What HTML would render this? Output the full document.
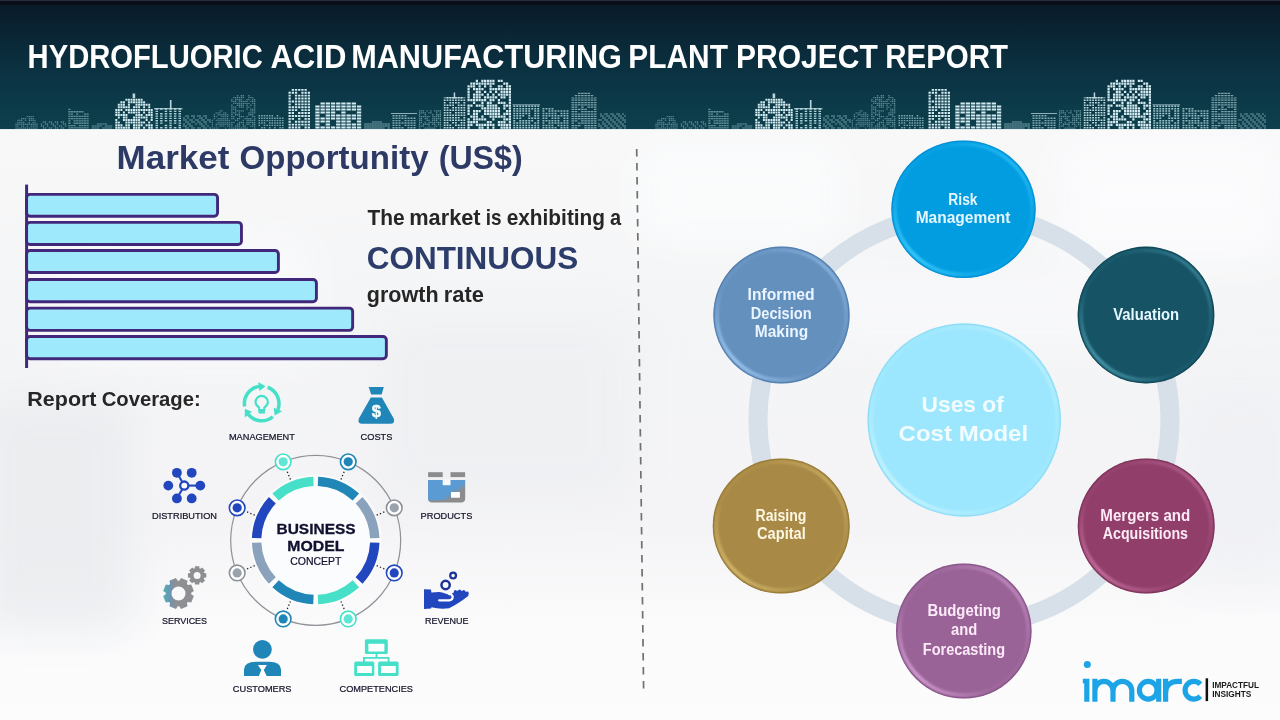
<!DOCTYPE html>
<html lang="en"><head><meta charset="utf-8"><title>Hydrofluoric Acid Manufacturing Plant Project Report</title>
<style>html,body{margin:0;padding:0;background:#f4f6f9;}body{width:1280px;height:720px;overflow:hidden;position:relative;font-family:"Liberation Sans",sans-serif;}</style></head>
<body>
<svg width="1280" height="720" viewBox="0 0 1280 720" style="position:absolute;left:0;top:0">
<defs>
<linearGradient id="hdr" x1="0" y1="0" x2="0" y2="1">
<stop offset="0" stop-color="#0a1624"/><stop offset="0.04" stop-color="#0a1a29"/><stop offset="0.3" stop-color="#0a2736"/><stop offset="0.55" stop-color="#0b3242"/><stop offset="1" stop-color="#0d404d"/>
</linearGradient>
<pattern id="winB" width="2.6" height="2.6" patternUnits="userSpaceOnUse"><rect x="0.3" y="0.3" width="1.9" height="1.9" fill="#d6edf2"/></pattern>
<pattern id="winM" width="2.6" height="2.6" patternUnits="userSpaceOnUse"><rect x="0.3" y="0.3" width="1.9" height="1.7" fill="#9cc3cc"/></pattern>
<pattern id="winD" width="2.4" height="2.4" patternUnits="userSpaceOnUse"><rect x="0.3" y="0.3" width="1.6" height="1.6" fill="#5f8e98"/></pattern>
<pattern id="winH" width="5" height="2.8" patternUnits="userSpaceOnUse"><rect x="0.4" y="0.4" width="4.0" height="1.7" fill="#d6edf2"/></pattern>
</defs>
<defs><linearGradient id="bgv" x1="0" y1="0" x2="0" y2="1"><stop offset="0.18" stop-color="#f8f8f9"/><stop offset="0.45" stop-color="#f4f5f6"/><stop offset="0.72" stop-color="#f4f4f6"/><stop offset="0.88" stop-color="#fbfbfc"/><stop offset="1" stop-color="#fcfcfd"/></linearGradient><filter id="bgblur" x="-20%" y="-20%" width="140%" height="140%"><feGaussianBlur stdDeviation="22"/></filter></defs>
<rect x="0" y="0" width="1280" height="720" fill="url(#bgv)"/>
<g filter="url(#bgblur)"><rect x="-20" y="400" width="150" height="230" fill="#e9ebee" opacity="0.8"/><rect x="60" y="240" width="250" height="120" fill="#fbfcfd" opacity="0.7"/><rect x="380" y="320" width="250" height="180" fill="#eceef1" opacity="0.7"/><rect x="640" y="150" width="200" height="90" fill="#fcfdfe" opacity="0.7"/><rect x="1060" y="140" width="220" height="120" fill="#fdfdfe" opacity="0.8"/><rect x="1180" y="380" width="120" height="200" fill="#eef0f3" opacity="0.7"/><rect x="820" y="280" width="300" height="60" fill="#fbfcfd" opacity="0.6"/></g>
<rect x="0" y="0" width="1280" height="129" fill="url(#hdr)"/>
<rect x="0" y="0" width="1280" height="4.6" fill="#090d16"/><rect x="0" y="0" width="1280" height="1.1" fill="#262d3c"/>
<g id="sky">
<path d="M15.4 127.4h1.3v1.3h-1.3zM17.3 127.4h1.3v1.3h-1.3zM19.2 127.4h1.3v1.3h-1.3zM21.1 127.4h1.3v1.3h-1.3zM23.0 127.4h1.3v1.3h-1.3zM24.9 127.4h1.3v1.3h-1.3zM26.8 127.4h1.3v1.3h-1.3zM28.7 127.4h1.3v1.3h-1.3zM30.6 127.4h1.3v1.3h-1.3zM32.5 127.4h1.3v1.3h-1.3zM34.4 127.4h1.3v1.3h-1.3zM36.3 127.4h1.3v1.3h-1.3zM15.4 125.5h1.3v1.3h-1.3zM17.3 125.5h1.3v1.3h-1.3zM21.1 125.5h1.3v1.3h-1.3zM23.0 125.5h1.3v1.3h-1.3zM26.8 125.5h1.3v1.3h-1.3zM30.6 125.5h1.3v1.3h-1.3zM32.5 125.5h1.3v1.3h-1.3zM34.4 125.5h1.3v1.3h-1.3zM36.3 125.5h1.3v1.3h-1.3zM15.4 123.6h1.3v1.3h-1.3zM17.3 123.6h1.3v1.3h-1.3zM19.2 123.6h1.3v1.3h-1.3zM21.1 123.6h1.3v1.3h-1.3zM23.0 123.6h1.3v1.3h-1.3zM24.9 123.6h1.3v1.3h-1.3zM26.8 123.6h1.3v1.3h-1.3zM28.7 123.6h1.3v1.3h-1.3zM30.6 123.6h1.3v1.3h-1.3zM32.5 123.6h1.3v1.3h-1.3zM34.4 123.6h1.3v1.3h-1.3zM36.3 123.6h1.3v1.3h-1.3zM17.3 121.7h1.3v1.3h-1.3zM19.2 121.7h1.3v1.3h-1.3zM21.1 121.7h1.3v1.3h-1.3zM23.0 121.7h1.3v1.3h-1.3zM28.7 121.7h1.3v1.3h-1.3zM32.5 121.7h1.3v1.3h-1.3zM34.4 121.7h1.3v1.3h-1.3zM17.3 119.8h1.3v1.3h-1.3zM19.2 119.8h1.3v1.3h-1.3zM21.1 119.8h1.3v1.3h-1.3zM24.9 119.8h1.3v1.3h-1.3zM28.7 119.8h1.3v1.3h-1.3zM30.6 119.8h1.3v1.3h-1.3zM32.5 119.8h1.3v1.3h-1.3zM34.4 119.8h1.3v1.3h-1.3zM21.1 117.9h1.3v1.3h-1.3zM23.0 117.9h1.3v1.3h-1.3zM24.9 117.9h1.3v1.3h-1.3zM28.7 117.9h1.3v1.3h-1.3zM30.6 117.9h1.3v1.3h-1.3zM32.5 117.9h1.3v1.3h-1.3zM26.8 116.0h1.3v1.3h-1.3zM28.7 116.0h1.3v1.3h-1.3zM30.6 116.0h1.3v1.3h-1.3zM32.5 116.0h1.3v1.3h-1.3z" fill="#6e9da6" opacity="0.75"/>
<path d="M42.8 127.3h1.4v1.4h-1.4zM44.8 127.3h1.4v1.4h-1.4zM48.8 127.3h1.4v1.4h-1.4zM50.8 127.3h1.4v1.4h-1.4zM54.8 127.3h1.4v1.4h-1.4zM56.8 127.3h1.4v1.4h-1.4zM60.8 127.3h1.4v1.4h-1.4zM62.8 127.3h1.4v1.4h-1.4zM40.8 125.3h1.4v1.4h-1.4zM42.8 125.3h1.4v1.4h-1.4zM46.8 125.3h1.4v1.4h-1.4zM52.8 125.3h1.4v1.4h-1.4zM54.8 125.3h1.4v1.4h-1.4zM58.8 125.3h1.4v1.4h-1.4zM60.8 125.3h1.4v1.4h-1.4zM64.8 125.3h1.4v1.4h-1.4zM40.8 123.3h1.4v1.4h-1.4zM44.8 123.3h1.4v1.4h-1.4zM46.8 123.3h1.4v1.4h-1.4zM50.8 123.3h1.4v1.4h-1.4zM52.8 123.3h1.4v1.4h-1.4zM56.8 123.3h1.4v1.4h-1.4zM62.8 123.3h1.4v1.4h-1.4zM64.8 123.3h1.4v1.4h-1.4zM42.8 121.3h1.4v1.4h-1.4zM44.8 121.3h1.4v1.4h-1.4zM48.8 121.3h1.4v1.4h-1.4zM50.8 121.3h1.4v1.4h-1.4zM54.8 121.3h1.4v1.4h-1.4zM56.8 121.3h1.4v1.4h-1.4zM60.8 121.3h1.4v1.4h-1.4zM62.8 121.3h1.4v1.4h-1.4z" fill="#6e9da6" opacity="0.75"/>
<path d="M68.3 127.2h2.2v1.3h-2.2zM70.9 127.2h2.2v1.3h-2.2zM73.5 127.2h2.2v1.3h-2.2zM76.1 127.2h2.2v1.3h-2.2zM78.7 127.2h2.2v1.3h-2.2zM81.3 127.2h2.2v1.3h-2.2zM83.9 127.2h2.2v1.3h-2.2zM86.5 127.2h2.2v1.3h-2.2zM68.3 124.9h2.2v1.3h-2.2zM70.9 124.9h2.2v1.3h-2.2zM73.5 124.9h2.2v1.3h-2.2zM78.7 124.9h2.2v1.3h-2.2zM81.3 124.9h2.2v1.3h-2.2zM83.9 124.9h2.2v1.3h-2.2zM86.5 124.9h2.2v1.3h-2.2zM68.3 122.6h2.2v1.3h-2.2zM73.5 122.6h2.2v1.3h-2.2zM76.1 122.6h2.2v1.3h-2.2zM78.7 122.6h2.2v1.3h-2.2zM81.3 122.6h2.2v1.3h-2.2zM83.9 122.6h2.2v1.3h-2.2zM86.5 122.6h2.2v1.3h-2.2zM68.3 120.3h2.2v1.3h-2.2zM73.5 120.3h2.2v1.3h-2.2zM76.1 120.3h2.2v1.3h-2.2zM78.7 120.3h2.2v1.3h-2.2zM81.3 120.3h2.2v1.3h-2.2zM83.9 120.3h2.2v1.3h-2.2zM86.5 120.3h2.2v1.3h-2.2zM68.3 118.0h2.2v1.3h-2.2zM70.9 118.0h2.2v1.3h-2.2zM73.5 118.0h2.2v1.3h-2.2zM76.1 118.0h2.2v1.3h-2.2zM78.7 118.0h2.2v1.3h-2.2zM81.3 118.0h2.2v1.3h-2.2zM83.9 118.0h2.2v1.3h-2.2zM86.5 118.0h2.2v1.3h-2.2zM68.3 115.7h2.2v1.3h-2.2zM70.9 115.7h2.2v1.3h-2.2zM73.5 115.7h2.2v1.3h-2.2zM76.1 115.7h2.2v1.3h-2.2zM78.7 115.7h2.2v1.3h-2.2zM81.3 115.7h2.2v1.3h-2.2zM83.9 115.7h2.2v1.3h-2.2zM86.5 115.7h2.2v1.3h-2.2zM68.3 113.4h2.2v1.3h-2.2zM70.9 113.4h2.2v1.3h-2.2zM76.1 113.4h2.2v1.3h-2.2zM83.9 113.4h2.2v1.3h-2.2zM86.5 113.4h2.2v1.3h-2.2zM68.3 111.1h2.2v1.3h-2.2zM70.9 111.1h2.2v1.3h-2.2zM73.5 111.1h2.2v1.3h-2.2zM76.1 111.1h2.2v1.3h-2.2zM78.7 111.1h2.2v1.3h-2.2zM81.3 111.1h2.2v1.3h-2.2zM68.3 108.8h2.2v1.3h-2.2z" fill="#6e9da6" opacity="0.85"/>
<path d="M91.7 127.4h2.4v1.2h-2.4zM94.3 127.4h2.4v1.2h-2.4zM96.9 127.4h2.4v1.2h-2.4zM102.1 127.4h2.4v1.2h-2.4zM104.7 127.4h2.4v1.2h-2.4zM107.3 127.4h2.4v1.2h-2.4zM109.9 127.4h2.4v1.2h-2.4zM91.7 125.4h2.4v1.2h-2.4zM94.3 125.4h2.4v1.2h-2.4zM96.9 125.4h2.4v1.2h-2.4zM99.5 125.4h2.4v1.2h-2.4zM104.7 125.4h2.4v1.2h-2.4zM107.3 125.4h2.4v1.2h-2.4zM109.9 125.4h2.4v1.2h-2.4zM96.9 123.4h2.4v1.2h-2.4zM99.5 123.4h2.4v1.2h-2.4zM102.1 123.4h2.4v1.2h-2.4zM104.7 123.4h2.4v1.2h-2.4z" fill="#6e9da6" opacity="0.9"/>
<path d="M115.3 126.7h2v2h-2zM117.8 126.7h2v2h-2zM120.4 126.7h2v2h-2zM122.9 126.7h2v2h-2zM125.4 126.7h2v2h-2zM127.9 126.7h2v2h-2zM133.0 126.7h2v2h-2zM135.5 126.7h2v2h-2zM138.1 126.7h2v2h-2zM143.1 126.7h2v2h-2zM148.2 126.7h2v2h-2zM150.7 126.7h2v2h-2zM115.3 124.2h2v2h-2zM117.8 124.2h2v2h-2zM120.4 124.2h2v2h-2zM125.4 124.2h2v2h-2zM127.9 124.2h2v2h-2zM133.0 124.2h2v2h-2zM135.5 124.2h2v2h-2zM138.1 124.2h2v2h-2zM140.6 124.2h2v2h-2zM145.6 124.2h2v2h-2zM148.2 124.2h2v2h-2zM150.7 124.2h2v2h-2zM115.3 121.6h2v2h-2zM117.8 121.6h2v2h-2zM125.4 121.6h2v2h-2zM127.9 121.6h2v2h-2zM130.5 121.6h2v2h-2zM133.0 121.6h2v2h-2zM135.5 121.6h2v2h-2zM138.1 121.6h2v2h-2zM140.6 121.6h2v2h-2zM143.1 121.6h2v2h-2zM148.2 121.6h2v2h-2zM115.3 119.1h2v2h-2zM122.9 119.1h2v2h-2zM125.4 119.1h2v2h-2zM127.9 119.1h2v2h-2zM130.5 119.1h2v2h-2zM133.0 119.1h2v2h-2zM135.5 119.1h2v2h-2zM138.1 119.1h2v2h-2zM145.6 119.1h2v2h-2zM150.7 119.1h2v2h-2zM117.8 116.5h2v2h-2zM122.9 116.5h2v2h-2zM125.4 116.5h2v2h-2zM133.0 116.5h2v2h-2zM135.5 116.5h2v2h-2zM138.1 116.5h2v2h-2zM140.6 116.5h2v2h-2zM143.1 116.5h2v2h-2zM145.6 116.5h2v2h-2zM150.7 116.5h2v2h-2zM115.3 114.0h2v2h-2zM117.8 114.0h2v2h-2zM120.4 114.0h2v2h-2zM122.9 114.0h2v2h-2zM125.4 114.0h2v2h-2zM135.5 114.0h2v2h-2zM138.1 114.0h2v2h-2zM140.6 114.0h2v2h-2zM145.6 114.0h2v2h-2zM148.2 114.0h2v2h-2zM150.7 114.0h2v2h-2zM115.3 111.4h2v2h-2zM117.8 111.4h2v2h-2zM122.9 111.4h2v2h-2zM127.9 111.4h2v2h-2zM130.5 111.4h2v2h-2zM133.0 111.4h2v2h-2zM135.5 111.4h2v2h-2zM138.1 111.4h2v2h-2zM143.1 111.4h2v2h-2zM148.2 111.4h2v2h-2zM150.7 111.4h2v2h-2zM115.3 108.9h2v2h-2zM117.8 108.9h2v2h-2zM120.4 108.9h2v2h-2zM125.4 108.9h2v2h-2zM127.9 108.9h2v2h-2zM130.5 108.9h2v2h-2zM133.0 108.9h2v2h-2zM135.5 108.9h2v2h-2zM138.1 108.9h2v2h-2zM140.6 108.9h2v2h-2zM143.1 108.9h2v2h-2zM145.6 108.9h2v2h-2zM148.2 108.9h2v2h-2zM150.7 108.9h2v2h-2zM117.8 106.3h2v2h-2zM120.4 106.3h2v2h-2zM122.9 106.3h2v2h-2zM125.4 106.3h2v2h-2zM127.9 106.3h2v2h-2zM133.0 106.3h2v2h-2zM135.5 106.3h2v2h-2zM138.1 106.3h2v2h-2zM143.1 106.3h2v2h-2zM148.2 106.3h2v2h-2zM117.8 103.8h2v2h-2zM120.4 103.8h2v2h-2zM122.9 103.8h2v2h-2zM127.9 103.8h2v2h-2zM135.5 103.8h2v2h-2zM138.1 103.8h2v2h-2zM140.6 103.8h2v2h-2zM143.1 103.8h2v2h-2zM145.6 103.8h2v2h-2zM148.2 103.8h2v2h-2zM120.4 101.2h2v2h-2zM122.9 101.2h2v2h-2zM127.9 101.2h2v2h-2zM130.5 101.2h2v2h-2zM133.0 101.2h2v2h-2zM135.5 101.2h2v2h-2zM138.1 101.2h2v2h-2zM140.6 101.2h2v2h-2zM143.1 101.2h2v2h-2zM125.4 98.7h2v2h-2zM127.9 98.7h2v2h-2zM130.5 98.7h2v2h-2zM133.0 98.7h2v2h-2zM135.5 98.7h2v2h-2zM138.1 98.7h2v2h-2zM140.6 98.7h2v2h-2z" fill="#d3ebf0" opacity="1"/>
<path d="M155.5 127.1h2.5v1.4h-2.5zM160.1 127.1h2.5v1.4h-2.5zM164.7 127.1h2.5v1.4h-2.5zM169.3 127.1h2.5v1.4h-2.5zM173.9 127.1h2.5v1.4h-2.5zM178.5 127.1h2.5v1.4h-2.5zM155.5 124.8h2.5v1.4h-2.5zM164.7 124.8h2.5v1.4h-2.5zM169.3 124.8h2.5v1.4h-2.5zM178.5 124.8h2.5v1.4h-2.5zM155.5 122.4h2.5v1.4h-2.5zM160.1 122.4h2.5v1.4h-2.5zM169.3 122.4h2.5v1.4h-2.5zM173.9 122.4h2.5v1.4h-2.5zM178.5 122.4h2.5v1.4h-2.5zM155.5 120.1h2.5v1.4h-2.5zM160.1 120.1h2.5v1.4h-2.5zM164.7 120.1h2.5v1.4h-2.5zM169.3 120.1h2.5v1.4h-2.5zM173.9 120.1h2.5v1.4h-2.5zM178.5 120.1h2.5v1.4h-2.5zM155.5 117.7h2.5v1.4h-2.5zM160.1 117.7h2.5v1.4h-2.5zM164.7 117.7h2.5v1.4h-2.5zM169.3 117.7h2.5v1.4h-2.5zM173.9 117.7h2.5v1.4h-2.5zM178.5 117.7h2.5v1.4h-2.5zM155.5 115.4h2.5v1.4h-2.5zM160.1 115.4h2.5v1.4h-2.5zM164.7 115.4h2.5v1.4h-2.5zM169.3 115.4h2.5v1.4h-2.5zM173.9 115.4h2.5v1.4h-2.5zM178.5 115.4h2.5v1.4h-2.5zM155.5 113.0h2.5v1.4h-2.5zM160.1 113.0h2.5v1.4h-2.5zM164.7 113.0h2.5v1.4h-2.5zM169.3 113.0h2.5v1.4h-2.5zM173.9 113.0h2.5v1.4h-2.5zM178.5 113.0h2.5v1.4h-2.5zM155.5 110.7h2.5v1.4h-2.5zM164.7 110.7h2.5v1.4h-2.5zM169.3 110.7h2.5v1.4h-2.5zM173.9 110.7h2.5v1.4h-2.5zM178.5 110.7h2.5v1.4h-2.5zM155.5 108.3h2.5v1.4h-2.5zM160.1 108.3h2.5v1.4h-2.5zM164.7 108.3h2.5v1.4h-2.5zM169.3 108.3h2.5v1.4h-2.5zM173.9 108.3h2.5v1.4h-2.5zM178.5 108.3h2.5v1.4h-2.5z" fill="#a9cfd6" opacity="1"/>
<path d="M185.3 127.3h1.4v1.4h-1.4zM187.3 127.3h1.4v1.4h-1.4zM191.3 127.3h1.4v1.4h-1.4zM193.3 127.3h1.4v1.4h-1.4zM197.3 127.3h1.4v1.4h-1.4zM199.3 127.3h1.4v1.4h-1.4zM203.3 127.3h1.4v1.4h-1.4zM205.3 127.3h1.4v1.4h-1.4zM209.3 127.3h1.4v1.4h-1.4zM183.3 125.3h1.4v1.4h-1.4zM185.3 125.3h1.4v1.4h-1.4zM189.3 125.3h1.4v1.4h-1.4zM191.3 125.3h1.4v1.4h-1.4zM201.3 125.3h1.4v1.4h-1.4zM203.3 125.3h1.4v1.4h-1.4zM207.3 125.3h1.4v1.4h-1.4zM183.3 123.3h1.4v1.4h-1.4zM187.3 123.3h1.4v1.4h-1.4zM189.3 123.3h1.4v1.4h-1.4zM195.3 123.3h1.4v1.4h-1.4zM199.3 123.3h1.4v1.4h-1.4zM201.3 123.3h1.4v1.4h-1.4zM205.3 123.3h1.4v1.4h-1.4zM185.3 121.3h1.4v1.4h-1.4zM187.3 121.3h1.4v1.4h-1.4zM191.3 121.3h1.4v1.4h-1.4zM193.3 121.3h1.4v1.4h-1.4zM197.3 121.3h1.4v1.4h-1.4zM199.3 121.3h1.4v1.4h-1.4zM203.3 121.3h1.4v1.4h-1.4zM205.3 121.3h1.4v1.4h-1.4zM209.3 121.3h1.4v1.4h-1.4zM183.3 119.3h1.4v1.4h-1.4zM185.3 119.3h1.4v1.4h-1.4zM189.3 119.3h1.4v1.4h-1.4zM191.3 119.3h1.4v1.4h-1.4zM195.3 119.3h1.4v1.4h-1.4zM197.3 119.3h1.4v1.4h-1.4zM201.3 119.3h1.4v1.4h-1.4zM203.3 119.3h1.4v1.4h-1.4zM207.3 119.3h1.4v1.4h-1.4zM209.3 119.3h1.4v1.4h-1.4zM183.3 117.3h1.4v1.4h-1.4zM187.3 117.3h1.4v1.4h-1.4zM193.3 117.3h1.4v1.4h-1.4zM199.3 117.3h1.4v1.4h-1.4zM201.3 117.3h1.4v1.4h-1.4zM205.3 117.3h1.4v1.4h-1.4zM185.3 115.3h1.4v1.4h-1.4zM187.3 115.3h1.4v1.4h-1.4zM191.3 115.3h1.4v1.4h-1.4zM193.3 115.3h1.4v1.4h-1.4zM197.3 115.3h1.4v1.4h-1.4zM199.3 115.3h1.4v1.4h-1.4zM203.3 115.3h1.4v1.4h-1.4zM205.3 115.3h1.4v1.4h-1.4z" fill="#6e9da6" opacity="0.9"/>
<path d="M211.8 127.4h1.3v1.3h-1.3zM213.7 127.4h1.3v1.3h-1.3zM215.6 127.4h1.3v1.3h-1.3zM217.5 127.4h1.3v1.3h-1.3zM225.1 127.4h1.3v1.3h-1.3zM228.9 127.4h1.3v1.3h-1.3zM211.8 125.5h1.3v1.3h-1.3zM215.6 125.5h1.3v1.3h-1.3zM219.4 125.5h1.3v1.3h-1.3zM221.3 125.5h1.3v1.3h-1.3zM223.2 125.5h1.3v1.3h-1.3zM227.0 125.5h1.3v1.3h-1.3zM228.9 125.5h1.3v1.3h-1.3zM211.8 123.6h1.3v1.3h-1.3zM215.6 123.6h1.3v1.3h-1.3zM217.5 123.6h1.3v1.3h-1.3zM219.4 123.6h1.3v1.3h-1.3zM221.3 123.6h1.3v1.3h-1.3zM223.2 123.6h1.3v1.3h-1.3zM225.1 123.6h1.3v1.3h-1.3zM227.0 123.6h1.3v1.3h-1.3zM228.9 123.6h1.3v1.3h-1.3zM211.8 121.7h1.3v1.3h-1.3zM217.5 121.7h1.3v1.3h-1.3zM219.4 121.7h1.3v1.3h-1.3zM221.3 121.7h1.3v1.3h-1.3zM223.2 121.7h1.3v1.3h-1.3zM225.1 121.7h1.3v1.3h-1.3zM227.0 121.7h1.3v1.3h-1.3zM228.9 121.7h1.3v1.3h-1.3zM211.8 119.8h1.3v1.3h-1.3zM215.6 119.8h1.3v1.3h-1.3zM217.5 119.8h1.3v1.3h-1.3zM219.4 119.8h1.3v1.3h-1.3zM221.3 119.8h1.3v1.3h-1.3zM223.2 119.8h1.3v1.3h-1.3zM225.1 119.8h1.3v1.3h-1.3zM227.0 119.8h1.3v1.3h-1.3zM228.9 119.8h1.3v1.3h-1.3zM213.7 117.9h1.3v1.3h-1.3zM217.5 117.9h1.3v1.3h-1.3zM219.4 117.9h1.3v1.3h-1.3zM221.3 117.9h1.3v1.3h-1.3zM223.2 117.9h1.3v1.3h-1.3zM225.1 117.9h1.3v1.3h-1.3zM227.0 117.9h1.3v1.3h-1.3zM213.7 116.0h1.3v1.3h-1.3zM215.6 116.0h1.3v1.3h-1.3zM221.3 116.0h1.3v1.3h-1.3zM223.2 116.0h1.3v1.3h-1.3zM225.1 116.0h1.3v1.3h-1.3zM227.0 116.0h1.3v1.3h-1.3zM213.7 114.1h1.3v1.3h-1.3zM217.5 114.1h1.3v1.3h-1.3zM219.4 114.1h1.3v1.3h-1.3zM221.3 114.1h1.3v1.3h-1.3zM223.2 114.1h1.3v1.3h-1.3zM225.1 114.1h1.3v1.3h-1.3zM227.0 114.1h1.3v1.3h-1.3zM215.6 112.2h1.3v1.3h-1.3zM217.5 112.2h1.3v1.3h-1.3zM219.4 112.2h1.3v1.3h-1.3zM223.2 112.2h1.3v1.3h-1.3zM225.1 112.2h1.3v1.3h-1.3zM219.4 110.3h1.3v1.3h-1.3zM221.3 110.3h1.3v1.3h-1.3z" fill="#6e9da6" opacity="0.7"/>
<path d="M231.2 127.4h1.3v1.3h-1.3zM233.1 127.4h1.3v1.3h-1.3zM235.0 127.4h1.3v1.3h-1.3zM236.9 127.4h1.3v1.3h-1.3zM238.8 127.4h1.3v1.3h-1.3zM240.7 127.4h1.3v1.3h-1.3zM242.6 127.4h1.3v1.3h-1.3zM244.5 127.4h1.3v1.3h-1.3zM246.4 127.4h1.3v1.3h-1.3zM254.0 127.4h1.3v1.3h-1.3zM231.2 125.5h1.3v1.3h-1.3zM235.0 125.5h1.3v1.3h-1.3zM236.9 125.5h1.3v1.3h-1.3zM238.8 125.5h1.3v1.3h-1.3zM242.6 125.5h1.3v1.3h-1.3zM244.5 125.5h1.3v1.3h-1.3zM250.2 125.5h1.3v1.3h-1.3zM252.1 125.5h1.3v1.3h-1.3zM254.0 125.5h1.3v1.3h-1.3zM231.2 123.6h1.3v1.3h-1.3zM236.9 123.6h1.3v1.3h-1.3zM238.8 123.6h1.3v1.3h-1.3zM242.6 123.6h1.3v1.3h-1.3zM246.4 123.6h1.3v1.3h-1.3zM248.3 123.6h1.3v1.3h-1.3zM252.1 123.6h1.3v1.3h-1.3zM254.0 123.6h1.3v1.3h-1.3zM231.2 121.7h1.3v1.3h-1.3zM233.1 121.7h1.3v1.3h-1.3zM238.8 121.7h1.3v1.3h-1.3zM240.7 121.7h1.3v1.3h-1.3zM242.6 121.7h1.3v1.3h-1.3zM246.4 121.7h1.3v1.3h-1.3zM248.3 121.7h1.3v1.3h-1.3zM250.2 121.7h1.3v1.3h-1.3zM252.1 121.7h1.3v1.3h-1.3zM254.0 121.7h1.3v1.3h-1.3zM235.0 119.8h1.3v1.3h-1.3zM236.9 119.8h1.3v1.3h-1.3zM242.6 119.8h1.3v1.3h-1.3zM246.4 119.8h1.3v1.3h-1.3zM248.3 119.8h1.3v1.3h-1.3zM250.2 119.8h1.3v1.3h-1.3zM252.1 119.8h1.3v1.3h-1.3zM254.0 119.8h1.3v1.3h-1.3zM231.2 117.9h1.3v1.3h-1.3zM233.1 117.9h1.3v1.3h-1.3zM236.9 117.9h1.3v1.3h-1.3zM238.8 117.9h1.3v1.3h-1.3zM244.5 117.9h1.3v1.3h-1.3zM246.4 117.9h1.3v1.3h-1.3zM248.3 117.9h1.3v1.3h-1.3zM250.2 117.9h1.3v1.3h-1.3zM254.0 117.9h1.3v1.3h-1.3zM231.2 116.0h1.3v1.3h-1.3zM233.1 116.0h1.3v1.3h-1.3zM238.8 116.0h1.3v1.3h-1.3zM240.7 116.0h1.3v1.3h-1.3zM242.6 116.0h1.3v1.3h-1.3zM246.4 116.0h1.3v1.3h-1.3zM252.1 116.0h1.3v1.3h-1.3zM254.0 116.0h1.3v1.3h-1.3zM231.2 114.1h1.3v1.3h-1.3zM235.0 114.1h1.3v1.3h-1.3zM236.9 114.1h1.3v1.3h-1.3zM238.8 114.1h1.3v1.3h-1.3zM248.3 114.1h1.3v1.3h-1.3zM250.2 114.1h1.3v1.3h-1.3zM252.1 114.1h1.3v1.3h-1.3zM231.2 112.2h1.3v1.3h-1.3zM233.1 112.2h1.3v1.3h-1.3zM235.0 112.2h1.3v1.3h-1.3zM238.8 112.2h1.3v1.3h-1.3zM248.3 112.2h1.3v1.3h-1.3zM250.2 112.2h1.3v1.3h-1.3zM252.1 112.2h1.3v1.3h-1.3zM254.0 112.2h1.3v1.3h-1.3zM231.2 110.3h1.3v1.3h-1.3zM235.0 110.3h1.3v1.3h-1.3zM236.9 110.3h1.3v1.3h-1.3zM238.8 110.3h1.3v1.3h-1.3zM240.7 110.3h1.3v1.3h-1.3zM242.6 110.3h1.3v1.3h-1.3zM250.2 110.3h1.3v1.3h-1.3zM252.1 110.3h1.3v1.3h-1.3zM254.0 110.3h1.3v1.3h-1.3zM231.2 108.4h1.3v1.3h-1.3zM233.1 108.4h1.3v1.3h-1.3zM235.0 108.4h1.3v1.3h-1.3zM246.4 108.4h1.3v1.3h-1.3zM250.2 108.4h1.3v1.3h-1.3zM252.1 108.4h1.3v1.3h-1.3zM254.0 108.4h1.3v1.3h-1.3zM231.2 106.5h1.3v1.3h-1.3zM233.1 106.5h1.3v1.3h-1.3zM235.0 106.5h1.3v1.3h-1.3zM238.8 106.5h1.3v1.3h-1.3zM240.7 106.5h1.3v1.3h-1.3zM242.6 106.5h1.3v1.3h-1.3zM246.4 106.5h1.3v1.3h-1.3zM248.3 106.5h1.3v1.3h-1.3zM254.0 106.5h1.3v1.3h-1.3zM231.2 104.6h1.3v1.3h-1.3zM236.9 104.6h1.3v1.3h-1.3zM238.8 104.6h1.3v1.3h-1.3zM240.7 104.6h1.3v1.3h-1.3zM242.6 104.6h1.3v1.3h-1.3zM246.4 104.6h1.3v1.3h-1.3zM250.2 104.6h1.3v1.3h-1.3zM254.0 104.6h1.3v1.3h-1.3zM233.1 102.7h1.3v1.3h-1.3zM235.0 102.7h1.3v1.3h-1.3zM236.9 102.7h1.3v1.3h-1.3zM238.8 102.7h1.3v1.3h-1.3zM240.7 102.7h1.3v1.3h-1.3zM242.6 102.7h1.3v1.3h-1.3zM244.5 102.7h1.3v1.3h-1.3zM246.4 102.7h1.3v1.3h-1.3zM248.3 102.7h1.3v1.3h-1.3zM252.1 102.7h1.3v1.3h-1.3zM254.0 102.7h1.3v1.3h-1.3zM231.2 100.8h1.3v1.3h-1.3zM233.1 100.8h1.3v1.3h-1.3zM235.0 100.8h1.3v1.3h-1.3zM238.8 100.8h1.3v1.3h-1.3zM240.7 100.8h1.3v1.3h-1.3zM242.6 100.8h1.3v1.3h-1.3zM244.5 100.8h1.3v1.3h-1.3zM246.4 100.8h1.3v1.3h-1.3zM250.2 100.8h1.3v1.3h-1.3zM252.1 100.8h1.3v1.3h-1.3zM254.0 100.8h1.3v1.3h-1.3zM231.2 98.9h1.3v1.3h-1.3zM235.0 98.9h1.3v1.3h-1.3zM236.9 98.9h1.3v1.3h-1.3zM238.8 98.9h1.3v1.3h-1.3zM240.7 98.9h1.3v1.3h-1.3zM246.4 98.9h1.3v1.3h-1.3zM248.3 98.9h1.3v1.3h-1.3zM252.1 98.9h1.3v1.3h-1.3zM254.0 98.9h1.3v1.3h-1.3zM233.1 97.0h1.3v1.3h-1.3zM235.0 97.0h1.3v1.3h-1.3zM236.9 97.0h1.3v1.3h-1.3zM238.8 97.0h1.3v1.3h-1.3zM240.7 97.0h1.3v1.3h-1.3zM242.6 97.0h1.3v1.3h-1.3zM248.3 97.0h1.3v1.3h-1.3zM250.2 97.0h1.3v1.3h-1.3zM252.1 97.0h1.3v1.3h-1.3zM236.9 95.1h1.3v1.3h-1.3zM240.7 95.1h1.3v1.3h-1.3zM242.6 95.1h1.3v1.3h-1.3zM248.3 95.1h1.3v1.3h-1.3z" fill="#6e9da6" opacity="0.8"/>
<path d="M261.1 127.1h1.6v1.4h-1.6zM263.7 127.1h1.6v1.4h-1.6zM268.9 127.1h1.6v1.4h-1.6zM274.1 127.1h1.6v1.4h-1.6zM279.3 127.1h1.6v1.4h-1.6zM281.9 127.1h1.6v1.4h-1.6zM258.5 124.7h1.6v1.4h-1.6zM263.7 124.7h1.6v1.4h-1.6zM266.3 124.7h1.6v1.4h-1.6zM268.9 124.7h1.6v1.4h-1.6zM271.5 124.7h1.6v1.4h-1.6zM274.1 124.7h1.6v1.4h-1.6zM276.7 124.7h1.6v1.4h-1.6zM279.3 124.7h1.6v1.4h-1.6zM281.9 124.7h1.6v1.4h-1.6zM258.5 122.3h1.6v1.4h-1.6zM261.1 122.3h1.6v1.4h-1.6zM263.7 122.3h1.6v1.4h-1.6zM268.9 122.3h1.6v1.4h-1.6zM271.5 122.3h1.6v1.4h-1.6zM274.1 122.3h1.6v1.4h-1.6zM276.7 122.3h1.6v1.4h-1.6zM279.3 122.3h1.6v1.4h-1.6zM281.9 122.3h1.6v1.4h-1.6zM258.5 119.9h1.6v1.4h-1.6zM261.1 119.9h1.6v1.4h-1.6zM263.7 119.9h1.6v1.4h-1.6zM266.3 119.9h1.6v1.4h-1.6zM268.9 119.9h1.6v1.4h-1.6zM271.5 119.9h1.6v1.4h-1.6zM274.1 119.9h1.6v1.4h-1.6zM276.7 119.9h1.6v1.4h-1.6zM279.3 119.9h1.6v1.4h-1.6zM281.9 119.9h1.6v1.4h-1.6zM258.5 117.5h1.6v1.4h-1.6zM261.1 117.5h1.6v1.4h-1.6zM263.7 117.5h1.6v1.4h-1.6zM266.3 117.5h1.6v1.4h-1.6zM268.9 117.5h1.6v1.4h-1.6zM271.5 117.5h1.6v1.4h-1.6zM274.1 117.5h1.6v1.4h-1.6zM276.7 117.5h1.6v1.4h-1.6zM279.3 117.5h1.6v1.4h-1.6zM281.9 117.5h1.6v1.4h-1.6zM258.5 115.1h1.6v1.4h-1.6zM261.1 115.1h1.6v1.4h-1.6zM263.7 115.1h1.6v1.4h-1.6zM266.3 115.1h1.6v1.4h-1.6zM268.9 115.1h1.6v1.4h-1.6zM271.5 115.1h1.6v1.4h-1.6zM276.7 115.1h1.6v1.4h-1.6z" fill="#a9cfd6" opacity="0.7"/>
<path d="M288.5 126.6h2.3v1.9h-2.3zM291.7 126.6h2.3v1.9h-2.3zM294.9 126.6h2.3v1.9h-2.3zM298.1 126.6h2.3v1.9h-2.3zM304.5 126.6h2.3v1.9h-2.3zM307.7 126.6h2.3v1.9h-2.3zM288.5 123.7h2.3v1.9h-2.3zM291.7 123.7h2.3v1.9h-2.3zM294.9 123.7h2.3v1.9h-2.3zM298.1 123.7h2.3v1.9h-2.3zM301.3 123.7h2.3v1.9h-2.3zM304.5 123.7h2.3v1.9h-2.3zM307.7 123.7h2.3v1.9h-2.3zM288.5 120.8h2.3v1.9h-2.3zM294.9 120.8h2.3v1.9h-2.3zM298.1 120.8h2.3v1.9h-2.3zM301.3 120.8h2.3v1.9h-2.3zM304.5 120.8h2.3v1.9h-2.3zM307.7 120.8h2.3v1.9h-2.3zM288.5 117.9h2.3v1.9h-2.3zM291.7 117.9h2.3v1.9h-2.3zM298.1 117.9h2.3v1.9h-2.3zM304.5 117.9h2.3v1.9h-2.3zM307.7 117.9h2.3v1.9h-2.3zM288.5 115.0h2.3v1.9h-2.3zM291.7 115.0h2.3v1.9h-2.3zM294.9 115.0h2.3v1.9h-2.3zM298.1 115.0h2.3v1.9h-2.3zM301.3 115.0h2.3v1.9h-2.3zM304.5 115.0h2.3v1.9h-2.3zM307.7 115.0h2.3v1.9h-2.3zM288.5 112.1h2.3v1.9h-2.3zM291.7 112.1h2.3v1.9h-2.3zM298.1 112.1h2.3v1.9h-2.3zM301.3 112.1h2.3v1.9h-2.3zM304.5 112.1h2.3v1.9h-2.3zM307.7 112.1h2.3v1.9h-2.3zM288.5 109.2h2.3v1.9h-2.3zM291.7 109.2h2.3v1.9h-2.3zM294.9 109.2h2.3v1.9h-2.3zM301.3 109.2h2.3v1.9h-2.3zM304.5 109.2h2.3v1.9h-2.3zM307.7 109.2h2.3v1.9h-2.3zM288.5 106.3h2.3v1.9h-2.3zM291.7 106.3h2.3v1.9h-2.3zM294.9 106.3h2.3v1.9h-2.3zM298.1 106.3h2.3v1.9h-2.3zM301.3 106.3h2.3v1.9h-2.3zM304.5 106.3h2.3v1.9h-2.3zM307.7 106.3h2.3v1.9h-2.3zM288.5 103.4h2.3v1.9h-2.3zM294.9 103.4h2.3v1.9h-2.3zM298.1 103.4h2.3v1.9h-2.3zM301.3 103.4h2.3v1.9h-2.3zM304.5 103.4h2.3v1.9h-2.3zM307.7 103.4h2.3v1.9h-2.3zM288.5 100.5h2.3v1.9h-2.3zM291.7 100.5h2.3v1.9h-2.3zM294.9 100.5h2.3v1.9h-2.3zM298.1 100.5h2.3v1.9h-2.3zM301.3 100.5h2.3v1.9h-2.3zM304.5 100.5h2.3v1.9h-2.3zM307.7 100.5h2.3v1.9h-2.3zM288.5 97.6h2.3v1.9h-2.3zM294.9 97.6h2.3v1.9h-2.3zM298.1 97.6h2.3v1.9h-2.3zM301.3 97.6h2.3v1.9h-2.3zM304.5 97.6h2.3v1.9h-2.3zM307.7 97.6h2.3v1.9h-2.3zM288.5 94.7h2.3v1.9h-2.3zM294.9 94.7h2.3v1.9h-2.3zM298.1 94.7h2.3v1.9h-2.3zM301.3 94.7h2.3v1.9h-2.3zM304.5 94.7h2.3v1.9h-2.3zM307.7 94.7h2.3v1.9h-2.3zM288.5 91.8h2.3v1.9h-2.3zM291.7 91.8h2.3v1.9h-2.3zM294.9 91.8h2.3v1.9h-2.3zM301.3 91.8h2.3v1.9h-2.3zM304.5 91.8h2.3v1.9h-2.3zM307.7 91.8h2.3v1.9h-2.3zM291.7 88.9h2.3v1.9h-2.3zM294.9 88.9h2.3v1.9h-2.3zM298.1 88.9h2.3v1.9h-2.3zM301.3 88.9h2.3v1.9h-2.3zM304.5 88.9h2.3v1.9h-2.3z" fill="#d3ebf0" opacity="1"/>
<path d="M315.3 126.6h4.3v1.8h-4.3zM320.5 126.6h4.3v1.8h-4.3zM325.7 126.6h4.3v1.8h-4.3zM330.9 126.6h4.3v1.8h-4.3zM336.1 126.6h4.3v1.8h-4.3zM341.3 126.6h4.3v1.8h-4.3zM346.5 126.6h4.3v1.8h-4.3zM351.7 126.6h4.3v1.8h-4.3zM356.9 126.6h4.3v1.8h-4.3zM315.3 123.6h4.3v1.8h-4.3zM325.7 123.6h4.3v1.8h-4.3zM336.1 123.6h4.3v1.8h-4.3zM341.3 123.6h4.3v1.8h-4.3zM346.5 123.6h4.3v1.8h-4.3zM351.7 123.6h4.3v1.8h-4.3zM356.9 123.6h4.3v1.8h-4.3zM315.3 120.6h4.3v1.8h-4.3zM320.5 120.6h4.3v1.8h-4.3zM325.7 120.6h4.3v1.8h-4.3zM336.1 120.6h4.3v1.8h-4.3zM341.3 120.6h4.3v1.8h-4.3zM346.5 120.6h4.3v1.8h-4.3zM356.9 120.6h4.3v1.8h-4.3zM315.3 117.6h4.3v1.8h-4.3zM320.5 117.6h4.3v1.8h-4.3zM325.7 117.6h4.3v1.8h-4.3zM330.9 117.6h4.3v1.8h-4.3zM336.1 117.6h4.3v1.8h-4.3zM341.3 117.6h4.3v1.8h-4.3zM346.5 117.6h4.3v1.8h-4.3zM351.7 117.6h4.3v1.8h-4.3zM356.9 117.6h4.3v1.8h-4.3zM315.3 114.6h4.3v1.8h-4.3zM325.7 114.6h4.3v1.8h-4.3zM330.9 114.6h4.3v1.8h-4.3zM336.1 114.6h4.3v1.8h-4.3zM341.3 114.6h4.3v1.8h-4.3zM346.5 114.6h4.3v1.8h-4.3zM351.7 114.6h4.3v1.8h-4.3zM356.9 114.6h4.3v1.8h-4.3zM315.3 111.6h4.3v1.8h-4.3zM320.5 111.6h4.3v1.8h-4.3zM325.7 111.6h4.3v1.8h-4.3zM330.9 111.6h4.3v1.8h-4.3zM341.3 111.6h4.3v1.8h-4.3zM356.9 111.6h4.3v1.8h-4.3zM315.3 108.6h4.3v1.8h-4.3zM320.5 108.6h4.3v1.8h-4.3zM325.7 108.6h4.3v1.8h-4.3zM330.9 108.6h4.3v1.8h-4.3zM336.1 108.6h4.3v1.8h-4.3zM341.3 108.6h4.3v1.8h-4.3zM346.5 108.6h4.3v1.8h-4.3zM351.7 108.6h4.3v1.8h-4.3zM356.9 108.6h4.3v1.8h-4.3zM315.3 105.6h4.3v1.8h-4.3zM320.5 105.6h4.3v1.8h-4.3zM325.7 105.6h4.3v1.8h-4.3zM330.9 105.6h4.3v1.8h-4.3zM336.1 105.6h4.3v1.8h-4.3zM341.3 105.6h4.3v1.8h-4.3zM346.5 105.6h4.3v1.8h-4.3zM351.7 105.6h4.3v1.8h-4.3zM356.9 105.6h4.3v1.8h-4.3zM320.5 102.6h4.3v1.8h-4.3zM325.7 102.6h4.3v1.8h-4.3zM330.9 102.6h4.3v1.8h-4.3zM336.1 102.6h4.3v1.8h-4.3zM341.3 102.6h4.3v1.8h-4.3zM346.5 102.6h4.3v1.8h-4.3zM351.7 102.6h4.3v1.8h-4.3z" fill="#d3ebf0" opacity="1"/>
<path d="M364.1 127.4h2.4v1.2h-2.4zM366.7 127.4h2.4v1.2h-2.4zM369.3 127.4h2.4v1.2h-2.4zM371.9 127.4h2.4v1.2h-2.4zM374.5 127.4h2.4v1.2h-2.4zM377.1 127.4h2.4v1.2h-2.4zM379.7 127.4h2.4v1.2h-2.4zM382.3 127.4h2.4v1.2h-2.4zM387.5 127.4h2.4v1.2h-2.4zM364.1 125.4h2.4v1.2h-2.4zM366.7 125.4h2.4v1.2h-2.4zM369.3 125.4h2.4v1.2h-2.4zM371.9 125.4h2.4v1.2h-2.4zM374.5 125.4h2.4v1.2h-2.4zM377.1 125.4h2.4v1.2h-2.4zM379.7 125.4h2.4v1.2h-2.4zM382.3 125.4h2.4v1.2h-2.4zM384.9 125.4h2.4v1.2h-2.4zM387.5 125.4h2.4v1.2h-2.4zM364.1 123.4h2.4v1.2h-2.4zM366.7 123.4h2.4v1.2h-2.4zM369.3 123.4h2.4v1.2h-2.4zM371.9 123.4h2.4v1.2h-2.4zM374.5 123.4h2.4v1.2h-2.4zM377.1 123.4h2.4v1.2h-2.4zM379.7 123.4h2.4v1.2h-2.4zM382.3 123.4h2.4v1.2h-2.4zM384.9 123.4h2.4v1.2h-2.4zM387.5 123.4h2.4v1.2h-2.4zM371.9 121.4h2.4v1.2h-2.4zM374.5 121.4h2.4v1.2h-2.4zM377.1 121.4h2.4v1.2h-2.4zM379.7 121.4h2.4v1.2h-2.4z" fill="#a9cfd6" opacity="0.7"/>
<path d="M392.5 127.1h2v1.4h-2zM395.5 127.1h2v1.4h-2zM398.5 127.1h2v1.4h-2zM401.5 127.1h2v1.4h-2zM407.5 127.1h2v1.4h-2zM410.5 127.1h2v1.4h-2zM413.5 127.1h2v1.4h-2zM392.5 124.7h2v1.4h-2zM395.5 124.7h2v1.4h-2zM398.5 124.7h2v1.4h-2zM404.5 124.7h2v1.4h-2zM407.5 124.7h2v1.4h-2zM410.5 124.7h2v1.4h-2zM413.5 124.7h2v1.4h-2zM392.5 122.3h2v1.4h-2zM395.5 122.3h2v1.4h-2zM398.5 122.3h2v1.4h-2zM401.5 122.3h2v1.4h-2zM404.5 122.3h2v1.4h-2zM407.5 122.3h2v1.4h-2zM410.5 122.3h2v1.4h-2zM413.5 122.3h2v1.4h-2zM392.5 119.9h2v1.4h-2zM395.5 119.9h2v1.4h-2zM398.5 119.9h2v1.4h-2zM404.5 119.9h2v1.4h-2zM407.5 119.9h2v1.4h-2zM410.5 119.9h2v1.4h-2zM413.5 119.9h2v1.4h-2zM392.5 117.5h2v1.4h-2zM395.5 117.5h2v1.4h-2zM398.5 117.5h2v1.4h-2zM401.5 117.5h2v1.4h-2zM404.5 117.5h2v1.4h-2zM407.5 117.5h2v1.4h-2zM410.5 117.5h2v1.4h-2zM413.5 117.5h2v1.4h-2zM392.5 115.1h2v1.4h-2zM395.5 115.1h2v1.4h-2zM398.5 115.1h2v1.4h-2zM401.5 115.1h2v1.4h-2zM404.5 115.1h2v1.4h-2z" fill="#a9cfd6" opacity="0.75"/>
<path d="M418.9 127.4h1.3v1.3h-1.3zM424.6 127.4h1.3v1.3h-1.3zM426.5 127.4h1.3v1.3h-1.3zM428.4 127.4h1.3v1.3h-1.3zM430.3 127.4h1.3v1.3h-1.3zM432.2 127.4h1.3v1.3h-1.3zM434.1 127.4h1.3v1.3h-1.3zM439.8 127.4h1.3v1.3h-1.3zM418.9 125.5h1.3v1.3h-1.3zM420.8 125.5h1.3v1.3h-1.3zM422.7 125.5h1.3v1.3h-1.3zM428.4 125.5h1.3v1.3h-1.3zM434.1 125.5h1.3v1.3h-1.3zM436.0 125.5h1.3v1.3h-1.3zM439.8 125.5h1.3v1.3h-1.3zM418.9 123.6h1.3v1.3h-1.3zM422.7 123.6h1.3v1.3h-1.3zM424.6 123.6h1.3v1.3h-1.3zM426.5 123.6h1.3v1.3h-1.3zM428.4 123.6h1.3v1.3h-1.3zM432.2 123.6h1.3v1.3h-1.3zM434.1 123.6h1.3v1.3h-1.3zM437.9 123.6h1.3v1.3h-1.3zM439.8 123.6h1.3v1.3h-1.3zM418.9 121.7h1.3v1.3h-1.3zM420.8 121.7h1.3v1.3h-1.3zM424.6 121.7h1.3v1.3h-1.3zM428.4 121.7h1.3v1.3h-1.3zM430.3 121.7h1.3v1.3h-1.3zM432.2 121.7h1.3v1.3h-1.3zM434.1 121.7h1.3v1.3h-1.3zM436.0 121.7h1.3v1.3h-1.3zM437.9 121.7h1.3v1.3h-1.3zM439.8 121.7h1.3v1.3h-1.3zM418.9 119.8h1.3v1.3h-1.3zM420.8 119.8h1.3v1.3h-1.3zM426.5 119.8h1.3v1.3h-1.3zM428.4 119.8h1.3v1.3h-1.3zM432.2 119.8h1.3v1.3h-1.3zM434.1 119.8h1.3v1.3h-1.3zM436.0 119.8h1.3v1.3h-1.3zM439.8 119.8h1.3v1.3h-1.3zM418.9 117.9h1.3v1.3h-1.3zM420.8 117.9h1.3v1.3h-1.3zM424.6 117.9h1.3v1.3h-1.3zM426.5 117.9h1.3v1.3h-1.3zM432.2 117.9h1.3v1.3h-1.3zM434.1 117.9h1.3v1.3h-1.3zM436.0 117.9h1.3v1.3h-1.3zM437.9 117.9h1.3v1.3h-1.3zM439.8 117.9h1.3v1.3h-1.3zM418.9 116.0h1.3v1.3h-1.3zM420.8 116.0h1.3v1.3h-1.3zM422.7 116.0h1.3v1.3h-1.3zM424.6 116.0h1.3v1.3h-1.3zM426.5 116.0h1.3v1.3h-1.3zM428.4 116.0h1.3v1.3h-1.3zM432.2 116.0h1.3v1.3h-1.3zM434.1 116.0h1.3v1.3h-1.3zM436.0 116.0h1.3v1.3h-1.3zM437.9 116.0h1.3v1.3h-1.3zM439.8 116.0h1.3v1.3h-1.3zM418.9 114.1h1.3v1.3h-1.3zM424.6 114.1h1.3v1.3h-1.3zM432.2 114.1h1.3v1.3h-1.3zM436.0 114.1h1.3v1.3h-1.3zM437.9 114.1h1.3v1.3h-1.3zM439.8 114.1h1.3v1.3h-1.3zM418.9 112.2h1.3v1.3h-1.3zM420.8 112.2h1.3v1.3h-1.3zM422.7 112.2h1.3v1.3h-1.3zM424.6 112.2h1.3v1.3h-1.3zM428.4 112.2h1.3v1.3h-1.3zM430.3 112.2h1.3v1.3h-1.3zM436.0 112.2h1.3v1.3h-1.3zM439.8 112.2h1.3v1.3h-1.3zM418.9 110.3h1.3v1.3h-1.3zM420.8 110.3h1.3v1.3h-1.3zM422.7 110.3h1.3v1.3h-1.3zM426.5 110.3h1.3v1.3h-1.3zM430.3 110.3h1.3v1.3h-1.3zM434.1 110.3h1.3v1.3h-1.3zM436.0 110.3h1.3v1.3h-1.3zM437.9 110.3h1.3v1.3h-1.3zM439.8 110.3h1.3v1.3h-1.3z" fill="#6e9da6" opacity="0.85"/>
<path d="M443.8 127.0h1.8v1.5h-1.8zM446.6 127.0h1.8v1.5h-1.8zM449.4 127.0h1.8v1.5h-1.8zM452.2 127.0h1.8v1.5h-1.8zM457.8 127.0h1.8v1.5h-1.8zM460.6 127.0h1.8v1.5h-1.8zM463.4 127.0h1.8v1.5h-1.8zM443.8 124.5h1.8v1.5h-1.8zM446.6 124.5h1.8v1.5h-1.8zM449.4 124.5h1.8v1.5h-1.8zM455.0 124.5h1.8v1.5h-1.8zM457.8 124.5h1.8v1.5h-1.8zM460.6 124.5h1.8v1.5h-1.8zM463.4 124.5h1.8v1.5h-1.8zM443.8 122.0h1.8v1.5h-1.8zM446.6 122.0h1.8v1.5h-1.8zM452.2 122.0h1.8v1.5h-1.8zM455.0 122.0h1.8v1.5h-1.8zM460.6 122.0h1.8v1.5h-1.8zM463.4 122.0h1.8v1.5h-1.8zM443.8 119.5h1.8v1.5h-1.8zM446.6 119.5h1.8v1.5h-1.8zM449.4 119.5h1.8v1.5h-1.8zM452.2 119.5h1.8v1.5h-1.8zM455.0 119.5h1.8v1.5h-1.8zM457.8 119.5h1.8v1.5h-1.8zM460.6 119.5h1.8v1.5h-1.8zM463.4 119.5h1.8v1.5h-1.8zM443.8 117.0h1.8v1.5h-1.8zM446.6 117.0h1.8v1.5h-1.8zM449.4 117.0h1.8v1.5h-1.8zM452.2 117.0h1.8v1.5h-1.8zM455.0 117.0h1.8v1.5h-1.8zM457.8 117.0h1.8v1.5h-1.8zM463.4 117.0h1.8v1.5h-1.8zM443.8 114.5h1.8v1.5h-1.8zM446.6 114.5h1.8v1.5h-1.8zM449.4 114.5h1.8v1.5h-1.8zM452.2 114.5h1.8v1.5h-1.8zM455.0 114.5h1.8v1.5h-1.8zM457.8 114.5h1.8v1.5h-1.8zM460.6 114.5h1.8v1.5h-1.8zM463.4 114.5h1.8v1.5h-1.8zM443.8 112.0h1.8v1.5h-1.8zM446.6 112.0h1.8v1.5h-1.8zM449.4 112.0h1.8v1.5h-1.8zM455.0 112.0h1.8v1.5h-1.8zM457.8 112.0h1.8v1.5h-1.8zM460.6 112.0h1.8v1.5h-1.8zM463.4 112.0h1.8v1.5h-1.8zM443.8 109.5h1.8v1.5h-1.8zM446.6 109.5h1.8v1.5h-1.8zM449.4 109.5h1.8v1.5h-1.8zM452.2 109.5h1.8v1.5h-1.8zM455.0 109.5h1.8v1.5h-1.8zM457.8 109.5h1.8v1.5h-1.8zM460.6 109.5h1.8v1.5h-1.8zM463.4 109.5h1.8v1.5h-1.8zM443.8 107.0h1.8v1.5h-1.8zM446.6 107.0h1.8v1.5h-1.8zM452.2 107.0h1.8v1.5h-1.8zM455.0 107.0h1.8v1.5h-1.8zM457.8 107.0h1.8v1.5h-1.8zM460.6 107.0h1.8v1.5h-1.8zM463.4 107.0h1.8v1.5h-1.8zM443.8 104.5h1.8v1.5h-1.8zM446.6 104.5h1.8v1.5h-1.8zM449.4 104.5h1.8v1.5h-1.8zM452.2 104.5h1.8v1.5h-1.8zM457.8 104.5h1.8v1.5h-1.8zM460.6 104.5h1.8v1.5h-1.8zM463.4 104.5h1.8v1.5h-1.8zM443.8 102.0h1.8v1.5h-1.8zM449.4 102.0h1.8v1.5h-1.8zM452.2 102.0h1.8v1.5h-1.8zM455.0 102.0h1.8v1.5h-1.8zM457.8 102.0h1.8v1.5h-1.8zM463.4 102.0h1.8v1.5h-1.8zM443.8 99.5h1.8v1.5h-1.8zM446.6 99.5h1.8v1.5h-1.8zM449.4 99.5h1.8v1.5h-1.8zM452.2 99.5h1.8v1.5h-1.8zM455.0 99.5h1.8v1.5h-1.8zM457.8 99.5h1.8v1.5h-1.8zM460.6 99.5h1.8v1.5h-1.8zM463.4 99.5h1.8v1.5h-1.8zM446.6 97.0h1.8v1.5h-1.8zM449.4 97.0h1.8v1.5h-1.8zM452.2 97.0h1.8v1.5h-1.8zM455.0 97.0h1.8v1.5h-1.8zM457.8 97.0h1.8v1.5h-1.8zM460.6 97.0h1.8v1.5h-1.8z" fill="#d3ebf0" opacity="0.9"/>
<path d="M467.5 126.5h2.2v2.2h-2.2zM478.5 126.5h2.2v2.2h-2.2zM481.3 126.5h2.2v2.2h-2.2zM486.8 126.5h2.2v2.2h-2.2zM492.3 126.5h2.2v2.2h-2.2zM500.5 126.5h2.2v2.2h-2.2zM503.3 126.5h2.2v2.2h-2.2zM506.0 126.5h2.2v2.2h-2.2zM508.8 126.5h2.2v2.2h-2.2zM467.5 123.8h2.2v2.2h-2.2zM470.3 123.8h2.2v2.2h-2.2zM475.8 123.8h2.2v2.2h-2.2zM478.5 123.8h2.2v2.2h-2.2zM481.3 123.8h2.2v2.2h-2.2zM484.0 123.8h2.2v2.2h-2.2zM486.8 123.8h2.2v2.2h-2.2zM489.5 123.8h2.2v2.2h-2.2zM492.3 123.8h2.2v2.2h-2.2zM497.8 123.8h2.2v2.2h-2.2zM500.5 123.8h2.2v2.2h-2.2zM503.3 123.8h2.2v2.2h-2.2zM506.0 123.8h2.2v2.2h-2.2zM508.8 123.8h2.2v2.2h-2.2zM467.5 121.0h2.2v2.2h-2.2zM470.3 121.0h2.2v2.2h-2.2zM473.0 121.0h2.2v2.2h-2.2zM475.8 121.0h2.2v2.2h-2.2zM486.8 121.0h2.2v2.2h-2.2zM489.5 121.0h2.2v2.2h-2.2zM497.8 121.0h2.2v2.2h-2.2zM500.5 121.0h2.2v2.2h-2.2zM503.3 121.0h2.2v2.2h-2.2zM508.8 121.0h2.2v2.2h-2.2zM467.5 118.3h2.2v2.2h-2.2zM473.0 118.3h2.2v2.2h-2.2zM475.8 118.3h2.2v2.2h-2.2zM478.5 118.3h2.2v2.2h-2.2zM481.3 118.3h2.2v2.2h-2.2zM484.0 118.3h2.2v2.2h-2.2zM492.3 118.3h2.2v2.2h-2.2zM503.3 118.3h2.2v2.2h-2.2zM506.0 118.3h2.2v2.2h-2.2zM508.8 118.3h2.2v2.2h-2.2zM470.3 115.5h2.2v2.2h-2.2zM473.0 115.5h2.2v2.2h-2.2zM475.8 115.5h2.2v2.2h-2.2zM481.3 115.5h2.2v2.2h-2.2zM489.5 115.5h2.2v2.2h-2.2zM492.3 115.5h2.2v2.2h-2.2zM495.0 115.5h2.2v2.2h-2.2zM497.8 115.5h2.2v2.2h-2.2zM500.5 115.5h2.2v2.2h-2.2zM503.3 115.5h2.2v2.2h-2.2zM508.8 115.5h2.2v2.2h-2.2zM467.5 112.8h2.2v2.2h-2.2zM473.0 112.8h2.2v2.2h-2.2zM475.8 112.8h2.2v2.2h-2.2zM484.0 112.8h2.2v2.2h-2.2zM486.8 112.8h2.2v2.2h-2.2zM489.5 112.8h2.2v2.2h-2.2zM492.3 112.8h2.2v2.2h-2.2zM495.0 112.8h2.2v2.2h-2.2zM497.8 112.8h2.2v2.2h-2.2zM503.3 112.8h2.2v2.2h-2.2zM506.0 112.8h2.2v2.2h-2.2zM508.8 112.8h2.2v2.2h-2.2zM467.5 110.0h2.2v2.2h-2.2zM473.0 110.0h2.2v2.2h-2.2zM475.8 110.0h2.2v2.2h-2.2zM478.5 110.0h2.2v2.2h-2.2zM484.0 110.0h2.2v2.2h-2.2zM486.8 110.0h2.2v2.2h-2.2zM489.5 110.0h2.2v2.2h-2.2zM492.3 110.0h2.2v2.2h-2.2zM495.0 110.0h2.2v2.2h-2.2zM497.8 110.0h2.2v2.2h-2.2zM506.0 110.0h2.2v2.2h-2.2zM508.8 110.0h2.2v2.2h-2.2zM467.5 107.3h2.2v2.2h-2.2zM481.3 107.3h2.2v2.2h-2.2zM484.0 107.3h2.2v2.2h-2.2zM486.8 107.3h2.2v2.2h-2.2zM489.5 107.3h2.2v2.2h-2.2zM492.3 107.3h2.2v2.2h-2.2zM495.0 107.3h2.2v2.2h-2.2zM497.8 107.3h2.2v2.2h-2.2zM503.3 107.3h2.2v2.2h-2.2zM508.8 107.3h2.2v2.2h-2.2zM467.5 104.5h2.2v2.2h-2.2zM470.3 104.5h2.2v2.2h-2.2zM475.8 104.5h2.2v2.2h-2.2zM478.5 104.5h2.2v2.2h-2.2zM481.3 104.5h2.2v2.2h-2.2zM486.8 104.5h2.2v2.2h-2.2zM489.5 104.5h2.2v2.2h-2.2zM492.3 104.5h2.2v2.2h-2.2zM495.0 104.5h2.2v2.2h-2.2zM503.3 104.5h2.2v2.2h-2.2zM506.0 104.5h2.2v2.2h-2.2zM508.8 104.5h2.2v2.2h-2.2zM473.0 101.8h2.2v2.2h-2.2zM481.3 101.8h2.2v2.2h-2.2zM486.8 101.8h2.2v2.2h-2.2zM489.5 101.8h2.2v2.2h-2.2zM497.8 101.8h2.2v2.2h-2.2zM500.5 101.8h2.2v2.2h-2.2zM503.3 101.8h2.2v2.2h-2.2zM508.8 101.8h2.2v2.2h-2.2zM467.5 99.0h2.2v2.2h-2.2zM470.3 99.0h2.2v2.2h-2.2zM473.0 99.0h2.2v2.2h-2.2zM475.8 99.0h2.2v2.2h-2.2zM478.5 99.0h2.2v2.2h-2.2zM481.3 99.0h2.2v2.2h-2.2zM484.0 99.0h2.2v2.2h-2.2zM489.5 99.0h2.2v2.2h-2.2zM492.3 99.0h2.2v2.2h-2.2zM497.8 99.0h2.2v2.2h-2.2zM508.8 99.0h2.2v2.2h-2.2zM467.5 96.3h2.2v2.2h-2.2zM473.0 96.3h2.2v2.2h-2.2zM475.8 96.3h2.2v2.2h-2.2zM478.5 96.3h2.2v2.2h-2.2zM484.0 96.3h2.2v2.2h-2.2zM486.8 96.3h2.2v2.2h-2.2zM489.5 96.3h2.2v2.2h-2.2zM492.3 96.3h2.2v2.2h-2.2zM495.0 96.3h2.2v2.2h-2.2zM500.5 96.3h2.2v2.2h-2.2zM503.3 96.3h2.2v2.2h-2.2zM508.8 96.3h2.2v2.2h-2.2zM467.5 93.5h2.2v2.2h-2.2zM473.0 93.5h2.2v2.2h-2.2zM475.8 93.5h2.2v2.2h-2.2zM478.5 93.5h2.2v2.2h-2.2zM481.3 93.5h2.2v2.2h-2.2zM486.8 93.5h2.2v2.2h-2.2zM492.3 93.5h2.2v2.2h-2.2zM497.8 93.5h2.2v2.2h-2.2zM500.5 93.5h2.2v2.2h-2.2zM503.3 93.5h2.2v2.2h-2.2zM506.0 93.5h2.2v2.2h-2.2zM508.8 93.5h2.2v2.2h-2.2zM467.5 90.8h2.2v2.2h-2.2zM475.8 90.8h2.2v2.2h-2.2zM478.5 90.8h2.2v2.2h-2.2zM484.0 90.8h2.2v2.2h-2.2zM489.5 90.8h2.2v2.2h-2.2zM495.0 90.8h2.2v2.2h-2.2zM500.5 90.8h2.2v2.2h-2.2zM503.3 90.8h2.2v2.2h-2.2zM506.0 90.8h2.2v2.2h-2.2zM508.8 90.8h2.2v2.2h-2.2zM467.5 88.0h2.2v2.2h-2.2zM473.0 88.0h2.2v2.2h-2.2zM475.8 88.0h2.2v2.2h-2.2zM478.5 88.0h2.2v2.2h-2.2zM481.3 88.0h2.2v2.2h-2.2zM489.5 88.0h2.2v2.2h-2.2zM492.3 88.0h2.2v2.2h-2.2zM495.0 88.0h2.2v2.2h-2.2zM497.8 88.0h2.2v2.2h-2.2zM500.5 88.0h2.2v2.2h-2.2zM503.3 88.0h2.2v2.2h-2.2zM506.0 88.0h2.2v2.2h-2.2zM508.8 88.0h2.2v2.2h-2.2zM467.5 85.3h2.2v2.2h-2.2zM470.3 85.3h2.2v2.2h-2.2zM473.0 85.3h2.2v2.2h-2.2zM478.5 85.3h2.2v2.2h-2.2zM484.0 85.3h2.2v2.2h-2.2zM489.5 85.3h2.2v2.2h-2.2zM497.8 85.3h2.2v2.2h-2.2zM500.5 85.3h2.2v2.2h-2.2zM506.0 85.3h2.2v2.2h-2.2zM508.8 85.3h2.2v2.2h-2.2zM470.3 82.5h2.2v2.2h-2.2zM473.0 82.5h2.2v2.2h-2.2zM475.8 82.5h2.2v2.2h-2.2zM478.5 82.5h2.2v2.2h-2.2zM481.3 82.5h2.2v2.2h-2.2zM484.0 82.5h2.2v2.2h-2.2zM486.8 82.5h2.2v2.2h-2.2zM489.5 82.5h2.2v2.2h-2.2zM492.3 82.5h2.2v2.2h-2.2zM503.3 82.5h2.2v2.2h-2.2zM506.0 82.5h2.2v2.2h-2.2zM475.8 79.8h2.2v2.2h-2.2zM481.3 79.8h2.2v2.2h-2.2zM484.0 79.8h2.2v2.2h-2.2zM486.8 79.8h2.2v2.2h-2.2zM489.5 79.8h2.2v2.2h-2.2zM492.3 79.8h2.2v2.2h-2.2zM497.8 79.8h2.2v2.2h-2.2zM500.5 79.8h2.2v2.2h-2.2z" fill="#d3ebf0" opacity="1"/>
<path d="M513.3 127.0h1.9v1.5h-1.9zM516.3 127.0h1.9v1.5h-1.9zM519.3 127.0h1.9v1.5h-1.9zM522.3 127.0h1.9v1.5h-1.9zM525.3 127.0h1.9v1.5h-1.9zM528.3 127.0h1.9v1.5h-1.9zM531.3 127.0h1.9v1.5h-1.9zM534.3 127.0h1.9v1.5h-1.9zM537.3 127.0h1.9v1.5h-1.9zM513.3 124.7h1.9v1.5h-1.9zM516.3 124.7h1.9v1.5h-1.9zM519.3 124.7h1.9v1.5h-1.9zM522.3 124.7h1.9v1.5h-1.9zM525.3 124.7h1.9v1.5h-1.9zM528.3 124.7h1.9v1.5h-1.9zM531.3 124.7h1.9v1.5h-1.9zM534.3 124.7h1.9v1.5h-1.9zM537.3 124.7h1.9v1.5h-1.9zM513.3 122.2h1.9v1.5h-1.9zM516.3 122.2h1.9v1.5h-1.9zM519.3 122.2h1.9v1.5h-1.9zM522.3 122.2h1.9v1.5h-1.9zM525.3 122.2h1.9v1.5h-1.9zM528.3 122.2h1.9v1.5h-1.9zM534.3 122.2h1.9v1.5h-1.9zM537.3 122.2h1.9v1.5h-1.9zM513.3 119.9h1.9v1.5h-1.9zM519.3 119.9h1.9v1.5h-1.9zM522.3 119.9h1.9v1.5h-1.9zM525.3 119.9h1.9v1.5h-1.9zM528.3 119.9h1.9v1.5h-1.9zM531.3 119.9h1.9v1.5h-1.9zM537.3 119.9h1.9v1.5h-1.9zM513.3 117.5h1.9v1.5h-1.9zM516.3 117.5h1.9v1.5h-1.9zM519.3 117.5h1.9v1.5h-1.9zM528.3 117.5h1.9v1.5h-1.9zM531.3 117.5h1.9v1.5h-1.9zM534.3 117.5h1.9v1.5h-1.9zM537.3 117.5h1.9v1.5h-1.9zM513.3 115.0h1.9v1.5h-1.9zM516.3 115.0h1.9v1.5h-1.9zM519.3 115.0h1.9v1.5h-1.9zM522.3 115.0h1.9v1.5h-1.9zM528.3 115.0h1.9v1.5h-1.9zM534.3 115.0h1.9v1.5h-1.9zM537.3 115.0h1.9v1.5h-1.9zM513.3 112.7h1.9v1.5h-1.9zM516.3 112.7h1.9v1.5h-1.9zM519.3 112.7h1.9v1.5h-1.9zM522.3 112.7h1.9v1.5h-1.9zM525.3 112.7h1.9v1.5h-1.9zM528.3 112.7h1.9v1.5h-1.9zM534.3 112.7h1.9v1.5h-1.9zM537.3 112.7h1.9v1.5h-1.9zM513.3 110.2h1.9v1.5h-1.9zM516.3 110.2h1.9v1.5h-1.9zM519.3 110.2h1.9v1.5h-1.9zM522.3 110.2h1.9v1.5h-1.9zM525.3 110.2h1.9v1.5h-1.9zM528.3 110.2h1.9v1.5h-1.9zM534.3 110.2h1.9v1.5h-1.9zM537.3 110.2h1.9v1.5h-1.9zM513.3 107.9h1.9v1.5h-1.9zM516.3 107.9h1.9v1.5h-1.9zM519.3 107.9h1.9v1.5h-1.9zM522.3 107.9h1.9v1.5h-1.9zM525.3 107.9h1.9v1.5h-1.9zM528.3 107.9h1.9v1.5h-1.9zM531.3 107.9h1.9v1.5h-1.9zM534.3 107.9h1.9v1.5h-1.9zM537.3 107.9h1.9v1.5h-1.9zM513.3 105.5h1.9v1.5h-1.9zM516.3 105.5h1.9v1.5h-1.9zM519.3 105.5h1.9v1.5h-1.9zM522.3 105.5h1.9v1.5h-1.9zM525.3 105.5h1.9v1.5h-1.9zM528.3 105.5h1.9v1.5h-1.9zM531.3 105.5h1.9v1.5h-1.9zM534.3 105.5h1.9v1.5h-1.9zM537.3 105.5h1.9v1.5h-1.9z" fill="#a9cfd6" opacity="0.95"/>
<path d="M542.5 127.0h1.9v1.5h-1.9zM545.5 127.0h1.9v1.5h-1.9zM548.5 127.0h1.9v1.5h-1.9zM551.5 127.0h1.9v1.5h-1.9zM554.5 127.0h1.9v1.5h-1.9zM560.5 127.0h1.9v1.5h-1.9zM563.5 127.0h1.9v1.5h-1.9zM566.5 127.0h1.9v1.5h-1.9zM542.5 124.7h1.9v1.5h-1.9zM545.5 124.7h1.9v1.5h-1.9zM548.5 124.7h1.9v1.5h-1.9zM551.5 124.7h1.9v1.5h-1.9zM557.5 124.7h1.9v1.5h-1.9zM560.5 124.7h1.9v1.5h-1.9zM563.5 124.7h1.9v1.5h-1.9zM566.5 124.7h1.9v1.5h-1.9zM542.5 122.2h1.9v1.5h-1.9zM548.5 122.2h1.9v1.5h-1.9zM551.5 122.2h1.9v1.5h-1.9zM554.5 122.2h1.9v1.5h-1.9zM557.5 122.2h1.9v1.5h-1.9zM560.5 122.2h1.9v1.5h-1.9zM563.5 122.2h1.9v1.5h-1.9zM566.5 122.2h1.9v1.5h-1.9zM542.5 119.9h1.9v1.5h-1.9zM545.5 119.9h1.9v1.5h-1.9zM548.5 119.9h1.9v1.5h-1.9zM551.5 119.9h1.9v1.5h-1.9zM554.5 119.9h1.9v1.5h-1.9zM557.5 119.9h1.9v1.5h-1.9zM563.5 119.9h1.9v1.5h-1.9zM566.5 119.9h1.9v1.5h-1.9zM542.5 117.5h1.9v1.5h-1.9zM545.5 117.5h1.9v1.5h-1.9zM551.5 117.5h1.9v1.5h-1.9zM554.5 117.5h1.9v1.5h-1.9zM557.5 117.5h1.9v1.5h-1.9zM563.5 117.5h1.9v1.5h-1.9zM566.5 117.5h1.9v1.5h-1.9zM542.5 115.0h1.9v1.5h-1.9zM545.5 115.0h1.9v1.5h-1.9zM548.5 115.0h1.9v1.5h-1.9zM551.5 115.0h1.9v1.5h-1.9zM554.5 115.0h1.9v1.5h-1.9zM557.5 115.0h1.9v1.5h-1.9zM560.5 115.0h1.9v1.5h-1.9zM563.5 115.0h1.9v1.5h-1.9zM566.5 115.0h1.9v1.5h-1.9zM542.5 112.7h1.9v1.5h-1.9zM545.5 112.7h1.9v1.5h-1.9zM548.5 112.7h1.9v1.5h-1.9zM551.5 112.7h1.9v1.5h-1.9zM554.5 112.7h1.9v1.5h-1.9zM560.5 112.7h1.9v1.5h-1.9zM563.5 112.7h1.9v1.5h-1.9zM566.5 112.7h1.9v1.5h-1.9zM542.5 110.2h1.9v1.5h-1.9zM548.5 110.2h1.9v1.5h-1.9zM551.5 110.2h1.9v1.5h-1.9zM554.5 110.2h1.9v1.5h-1.9zM557.5 110.2h1.9v1.5h-1.9zM560.5 110.2h1.9v1.5h-1.9zM563.5 110.2h1.9v1.5h-1.9zM566.5 110.2h1.9v1.5h-1.9zM542.5 107.9h1.9v1.5h-1.9zM545.5 107.9h1.9v1.5h-1.9zM548.5 107.9h1.9v1.5h-1.9zM551.5 107.9h1.9v1.5h-1.9z" fill="#a9cfd6" opacity="0.85"/>
<path d="M571.5 127.2h2.6v1.2h-2.6zM574.7 127.2h2.6v1.2h-2.6zM584.3 127.2h2.6v1.2h-2.6zM587.5 127.2h2.6v1.2h-2.6zM590.7 127.2h2.6v1.2h-2.6zM593.9 127.2h2.6v1.2h-2.6zM571.5 125.0h2.6v1.2h-2.6zM574.7 125.0h2.6v1.2h-2.6zM577.9 125.0h2.6v1.2h-2.6zM584.3 125.0h2.6v1.2h-2.6zM587.5 125.0h2.6v1.2h-2.6zM590.7 125.0h2.6v1.2h-2.6zM593.9 125.0h2.6v1.2h-2.6zM571.5 122.6h2.6v1.2h-2.6zM577.9 122.6h2.6v1.2h-2.6zM581.1 122.6h2.6v1.2h-2.6zM584.3 122.6h2.6v1.2h-2.6zM587.5 122.6h2.6v1.2h-2.6zM590.7 122.6h2.6v1.2h-2.6zM593.9 122.6h2.6v1.2h-2.6zM571.5 120.3h2.6v1.2h-2.6zM574.7 120.3h2.6v1.2h-2.6zM581.1 120.3h2.6v1.2h-2.6zM584.3 120.3h2.6v1.2h-2.6zM587.5 120.3h2.6v1.2h-2.6zM590.7 120.3h2.6v1.2h-2.6zM593.9 120.3h2.6v1.2h-2.6zM571.5 118.0h2.6v1.2h-2.6zM574.7 118.0h2.6v1.2h-2.6zM577.9 118.0h2.6v1.2h-2.6zM581.1 118.0h2.6v1.2h-2.6zM584.3 118.0h2.6v1.2h-2.6zM587.5 118.0h2.6v1.2h-2.6zM590.7 118.0h2.6v1.2h-2.6zM593.9 118.0h2.6v1.2h-2.6zM571.5 115.8h2.6v1.2h-2.6zM574.7 115.8h2.6v1.2h-2.6zM577.9 115.8h2.6v1.2h-2.6zM581.1 115.8h2.6v1.2h-2.6zM584.3 115.8h2.6v1.2h-2.6zM587.5 115.8h2.6v1.2h-2.6zM590.7 115.8h2.6v1.2h-2.6zM593.9 115.8h2.6v1.2h-2.6zM571.5 113.5h2.6v1.2h-2.6zM574.7 113.5h2.6v1.2h-2.6zM577.9 113.5h2.6v1.2h-2.6zM581.1 113.5h2.6v1.2h-2.6zM584.3 113.5h2.6v1.2h-2.6zM587.5 113.5h2.6v1.2h-2.6zM590.7 113.5h2.6v1.2h-2.6zM593.9 113.5h2.6v1.2h-2.6zM571.5 111.1h2.6v1.2h-2.6zM574.7 111.1h2.6v1.2h-2.6zM581.1 111.1h2.6v1.2h-2.6zM584.3 111.1h2.6v1.2h-2.6zM587.5 111.1h2.6v1.2h-2.6zM590.7 111.1h2.6v1.2h-2.6zM593.9 111.1h2.6v1.2h-2.6zM571.5 108.8h2.6v1.2h-2.6zM574.7 108.8h2.6v1.2h-2.6zM577.9 108.8h2.6v1.2h-2.6zM581.1 108.8h2.6v1.2h-2.6zM584.3 108.8h2.6v1.2h-2.6zM593.9 108.8h2.6v1.2h-2.6zM571.5 106.5h2.6v1.2h-2.6zM574.7 106.5h2.6v1.2h-2.6zM581.1 106.5h2.6v1.2h-2.6zM587.5 106.5h2.6v1.2h-2.6zM590.7 106.5h2.6v1.2h-2.6zM593.9 106.5h2.6v1.2h-2.6zM571.5 104.2h2.6v1.2h-2.6zM574.7 104.2h2.6v1.2h-2.6zM577.9 104.2h2.6v1.2h-2.6zM581.1 104.2h2.6v1.2h-2.6zM584.3 104.2h2.6v1.2h-2.6zM587.5 104.2h2.6v1.2h-2.6zM590.7 104.2h2.6v1.2h-2.6zM593.9 104.2h2.6v1.2h-2.6zM571.5 102.0h2.6v1.2h-2.6zM574.7 102.0h2.6v1.2h-2.6zM577.9 102.0h2.6v1.2h-2.6zM581.1 102.0h2.6v1.2h-2.6zM584.3 102.0h2.6v1.2h-2.6zM587.5 102.0h2.6v1.2h-2.6zM590.7 102.0h2.6v1.2h-2.6zM593.9 102.0h2.6v1.2h-2.6zM571.5 99.6h2.6v1.2h-2.6zM574.7 99.6h2.6v1.2h-2.6zM577.9 99.6h2.6v1.2h-2.6zM581.1 99.6h2.6v1.2h-2.6zM584.3 99.6h2.6v1.2h-2.6zM587.5 99.6h2.6v1.2h-2.6zM590.7 99.6h2.6v1.2h-2.6zM593.9 99.6h2.6v1.2h-2.6zM571.5 97.4h2.6v1.2h-2.6zM574.7 97.4h2.6v1.2h-2.6zM577.9 97.4h2.6v1.2h-2.6zM581.1 97.4h2.6v1.2h-2.6zM584.3 97.4h2.6v1.2h-2.6zM587.5 97.4h2.6v1.2h-2.6zM590.7 97.4h2.6v1.2h-2.6zM593.9 97.4h2.6v1.2h-2.6zM574.7 95.0h2.6v1.2h-2.6zM577.9 95.0h2.6v1.2h-2.6zM581.1 95.0h2.6v1.2h-2.6zM584.3 95.0h2.6v1.2h-2.6zM587.5 95.0h2.6v1.2h-2.6zM590.7 95.0h2.6v1.2h-2.6zM577.9 92.8h2.6v1.2h-2.6zM581.1 92.8h2.6v1.2h-2.6zM584.3 92.8h2.6v1.2h-2.6zM587.5 92.8h2.6v1.2h-2.6z" fill="#a9cfd6" opacity="0.7"/>
<path d="M600.3 127.3h1.4v1.4h-1.4zM602.3 127.3h1.4v1.4h-1.4zM606.3 127.3h1.4v1.4h-1.4zM608.3 127.3h1.4v1.4h-1.4zM612.3 127.3h1.4v1.4h-1.4zM614.3 127.3h1.4v1.4h-1.4zM618.3 127.3h1.4v1.4h-1.4zM620.3 127.3h1.4v1.4h-1.4zM624.3 127.3h1.4v1.4h-1.4zM598.3 125.3h1.4v1.4h-1.4zM600.3 125.3h1.4v1.4h-1.4zM604.3 125.3h1.4v1.4h-1.4zM606.3 125.3h1.4v1.4h-1.4zM610.3 125.3h1.4v1.4h-1.4zM612.3 125.3h1.4v1.4h-1.4zM616.3 125.3h1.4v1.4h-1.4zM618.3 125.3h1.4v1.4h-1.4zM622.3 125.3h1.4v1.4h-1.4zM624.3 125.3h1.4v1.4h-1.4zM598.3 123.3h1.4v1.4h-1.4zM602.3 123.3h1.4v1.4h-1.4zM604.3 123.3h1.4v1.4h-1.4zM608.3 123.3h1.4v1.4h-1.4zM610.3 123.3h1.4v1.4h-1.4zM614.3 123.3h1.4v1.4h-1.4zM616.3 123.3h1.4v1.4h-1.4zM620.3 123.3h1.4v1.4h-1.4zM622.3 123.3h1.4v1.4h-1.4zM602.3 121.3h1.4v1.4h-1.4zM606.3 121.3h1.4v1.4h-1.4zM608.3 121.3h1.4v1.4h-1.4zM612.3 121.3h1.4v1.4h-1.4zM614.3 121.3h1.4v1.4h-1.4zM618.3 121.3h1.4v1.4h-1.4zM620.3 121.3h1.4v1.4h-1.4zM624.3 121.3h1.4v1.4h-1.4zM598.3 119.3h1.4v1.4h-1.4zM600.3 119.3h1.4v1.4h-1.4zM604.3 119.3h1.4v1.4h-1.4zM606.3 119.3h1.4v1.4h-1.4zM610.3 119.3h1.4v1.4h-1.4zM612.3 119.3h1.4v1.4h-1.4zM616.3 119.3h1.4v1.4h-1.4zM618.3 119.3h1.4v1.4h-1.4zM622.3 119.3h1.4v1.4h-1.4zM624.3 119.3h1.4v1.4h-1.4zM602.3 117.3h1.4v1.4h-1.4zM604.3 117.3h1.4v1.4h-1.4zM608.3 117.3h1.4v1.4h-1.4zM610.3 117.3h1.4v1.4h-1.4zM614.3 117.3h1.4v1.4h-1.4zM616.3 117.3h1.4v1.4h-1.4zM620.3 117.3h1.4v1.4h-1.4zM622.3 117.3h1.4v1.4h-1.4zM600.3 115.3h1.4v1.4h-1.4zM602.3 115.3h1.4v1.4h-1.4zM606.3 115.3h1.4v1.4h-1.4zM608.3 115.3h1.4v1.4h-1.4zM612.3 115.3h1.4v1.4h-1.4zM614.3 115.3h1.4v1.4h-1.4zM618.3 115.3h1.4v1.4h-1.4zM620.3 115.3h1.4v1.4h-1.4zM624.3 115.3h1.4v1.4h-1.4zM600.3 113.3h1.4v1.4h-1.4zM604.3 113.3h1.4v1.4h-1.4zM606.3 113.3h1.4v1.4h-1.4zM610.3 113.3h1.4v1.4h-1.4zM612.3 113.3h1.4v1.4h-1.4zM616.3 113.3h1.4v1.4h-1.4zM618.3 113.3h1.4v1.4h-1.4zM622.3 113.3h1.4v1.4h-1.4z" fill="#6e9da6" opacity="0.9"/>
<path d="M154 108.2h28.5v1h-28.5z M169.9 100h1.6v8.2h-1.6z M132.6 93.6h2.6v4.6h-2.6z M453.7 92.5h1.5v6h-1.5z M443.5 97.4h22v0.9h-22z M391 113h26v0.8h-26z M512.5 104.4h27.5v0.9h-27.5z" fill="#cfe6ec" opacity="0.9"/>
</g>
<use href="#sky" x="640"/>
<rect x="0" y="129" width="1280" height="1" fill="#e6ecef"/>
<text x="27.6" y="68.2" font-family="'Liberation Sans', sans-serif" font-size="33" font-weight="bold" fill="#ffffff" text-anchor="start" textLength="235.14" lengthAdjust="spacingAndGlyphs" >HYDROFLUORIC</text><text x="270.42" y="68.2" font-family="'Liberation Sans', sans-serif" font-size="33" font-weight="bold" fill="#ffffff" text-anchor="start" textLength="75.96" lengthAdjust="spacingAndGlyphs" >ACID</text><text x="351.21" y="68.2" font-family="'Liberation Sans', sans-serif" font-size="33" font-weight="bold" fill="#ffffff" text-anchor="start" textLength="270.71" lengthAdjust="spacingAndGlyphs" >MANUFACTURING</text><text x="628.36" y="68.2" font-family="'Liberation Sans', sans-serif" font-size="33" font-weight="bold" fill="#ffffff" text-anchor="start" textLength="99.53" lengthAdjust="spacingAndGlyphs" >PLANT</text><text x="736.05" y="68.2" font-family="'Liberation Sans', sans-serif" font-size="33" font-weight="bold" fill="#ffffff" text-anchor="start" textLength="141.75" lengthAdjust="spacingAndGlyphs" >PROJECT</text><text x="885.28" y="68.2" font-family="'Liberation Sans', sans-serif" font-size="33" font-weight="bold" fill="#ffffff" text-anchor="start" textLength="122.77" lengthAdjust="spacingAndGlyphs" >REPORT</text>
<text x="116.63" y="169.4" font-family="'Liberation Sans', sans-serif" font-size="32.4" font-weight="bold" fill="#2d3a66" text-anchor="start" textLength="112.75" lengthAdjust="spacingAndGlyphs" >Market</text><text x="239.58" y="169.4" font-family="'Liberation Sans', sans-serif" font-size="32.4" font-weight="bold" fill="#2d3a66" text-anchor="start" textLength="188.93" lengthAdjust="spacingAndGlyphs" >Opportunity</text><text x="438.69" y="169.4" font-family="'Liberation Sans', sans-serif" font-size="32.4" font-weight="bold" fill="#2d3a66" text-anchor="start" textLength="83.9" lengthAdjust="spacingAndGlyphs" >(US$)</text>
<rect x="25.1" y="184.6" width="3.0" height="183.4" fill="#41287a"/>
<rect x="26.6" y="194.35" width="190.95" height="21.90" rx="3.4" ry="3.4" fill="#9fe9fd" stroke="#41287a" stroke-width="2.9"/>
<rect x="26.6" y="222.35" width="214.85" height="22.20" rx="3.4" ry="3.4" fill="#9fe9fd" stroke="#41287a" stroke-width="2.9"/>
<rect x="26.6" y="250.50" width="251.80" height="22.05" rx="3.4" ry="3.4" fill="#9fe9fd" stroke="#41287a" stroke-width="2.9"/>
<rect x="26.6" y="279.55" width="289.80" height="22.20" rx="3.4" ry="3.4" fill="#9fe9fd" stroke="#41287a" stroke-width="2.9"/>
<rect x="26.6" y="308.15" width="326.05" height="22.20" rx="3.4" ry="3.4" fill="#9fe9fd" stroke="#41287a" stroke-width="2.9"/>
<rect x="26.6" y="336.45" width="359.75" height="22.30" rx="3.4" ry="3.4" fill="#9fe9fd" stroke="#41287a" stroke-width="2.9"/>
<text x="367.49" y="224.7" font-family="'Liberation Sans', sans-serif" font-size="21.2" font-weight="bold" fill="#262626" text-anchor="start" textLength="37.2" lengthAdjust="spacingAndGlyphs" >The</text><text x="409.29" y="224.7" font-family="'Liberation Sans', sans-serif" font-size="21.2" font-weight="bold" fill="#262626" text-anchor="start" textLength="71.34" lengthAdjust="spacingAndGlyphs" >market</text><text x="485.68" y="224.7" font-family="'Liberation Sans', sans-serif" font-size="21.2" font-weight="bold" fill="#262626" text-anchor="start" textLength="15.76" lengthAdjust="spacingAndGlyphs" >is</text><text x="506.67" y="224.7" font-family="'Liberation Sans', sans-serif" font-size="21.2" font-weight="bold" fill="#262626" text-anchor="start" textLength="98.44" lengthAdjust="spacingAndGlyphs" >exhibiting</text><text x="609.9" y="224.7" font-family="'Liberation Sans', sans-serif" font-size="21.2" font-weight="bold" fill="#262626" text-anchor="start" textLength="11.12" lengthAdjust="spacingAndGlyphs" >a</text>
<text x="366.74" y="268.9" font-family="'Liberation Sans', sans-serif" font-size="32.2" font-weight="bold" fill="#2d3d6b" text-anchor="start" textLength="211.43" lengthAdjust="spacingAndGlyphs" >CONTINUOUS</text>
<text x="366.84" y="301.5" font-family="'Liberation Sans', sans-serif" font-size="21.2" font-weight="bold" fill="#262626" text-anchor="start" textLength="71.71" lengthAdjust="spacingAndGlyphs" >growth</text><text x="443.78" y="301.5" font-family="'Liberation Sans', sans-serif" font-size="21.2" font-weight="bold" fill="#262626" text-anchor="start" textLength="40.18" lengthAdjust="spacingAndGlyphs" >rate</text>
<line x1="636.7" y1="149" x2="643.6" y2="689" stroke="#707070" stroke-width="1.7" stroke-dasharray="7.5 6.5"/>
<text x="27.35" y="406.25" font-family="'Liberation Sans', sans-serif" font-size="20.6" font-weight="bold" fill="#262626" text-anchor="start" textLength="69.16" lengthAdjust="spacingAndGlyphs" >Report</text><text x="101.69" y="406.25" font-family="'Liberation Sans', sans-serif" font-size="20.6" font-weight="bold" fill="#262626" text-anchor="start" textLength="99.0" lengthAdjust="spacingAndGlyphs" >Coverage:</text>
<circle cx="315.7" cy="540.4" r="85" fill="none" stroke="#8e9196" stroke-width="1.2"/>
<circle cx="315.7" cy="540.4" r="66" fill="#ffffff" opacity="0.55"/><circle cx="315.7" cy="540.4" r="54" fill="#fbfcfd"/>
<path d="M317.97,481.34 A59.1,59.1 0 0 1 355.85,497.04" fill="none" stroke="#1f86b7" stroke-width="9.4"/>
<path d="M359.06,500.25 A59.1,59.1 0 0 1 374.76,538.13" fill="none" stroke="#8ba2bd" stroke-width="9.4"/>
<path d="M374.76,542.67 A59.1,59.1 0 0 1 359.06,580.55" fill="none" stroke="#2146bd" stroke-width="9.4"/>
<path d="M355.85,583.76 A59.1,59.1 0 0 1 317.97,599.46" fill="none" stroke="#46e0c8" stroke-width="9.4"/>
<path d="M313.43,599.46 A59.1,59.1 0 0 1 275.55,583.76" fill="none" stroke="#1f86b7" stroke-width="9.4"/>
<path d="M272.34,580.55 A59.1,59.1 0 0 1 256.64,542.67" fill="none" stroke="#8ba2bd" stroke-width="9.4"/>
<path d="M256.64,538.13 A59.1,59.1 0 0 1 272.34,500.25" fill="none" stroke="#2146bd" stroke-width="9.4"/>
<path d="M275.55,497.04 A59.1,59.1 0 0 1 313.43,481.34" fill="none" stroke="#46e0c8" stroke-width="9.4"/>
<line x1="340.96" y1="479.42" x2="344.78" y2="470.19" stroke="#222" stroke-width="1.3" stroke-dasharray="1.3 2.2"/>
<circle cx="348.23" cy="461.87" r="7.8" fill="#ffffff" stroke="#1f86b7" stroke-width="1.6"/>
<circle cx="348.23" cy="461.87" r="4.6" fill="#1f86b7"/>
<line x1="376.68" y1="515.14" x2="385.91" y2="511.32" stroke="#222" stroke-width="1.3" stroke-dasharray="1.3 2.2"/>
<circle cx="394.23" cy="507.87" r="7.8" fill="#ffffff" stroke="#8d9097" stroke-width="1.6"/>
<circle cx="394.23" cy="507.87" r="4.6" fill="#9aa3ad"/>
<line x1="376.68" y1="565.66" x2="385.91" y2="569.48" stroke="#222" stroke-width="1.3" stroke-dasharray="1.3 2.2"/>
<circle cx="394.23" cy="572.93" r="7.8" fill="#ffffff" stroke="#2146bd" stroke-width="1.6"/>
<circle cx="394.23" cy="572.93" r="4.6" fill="#2146bd"/>
<line x1="340.96" y1="601.38" x2="344.78" y2="610.61" stroke="#222" stroke-width="1.3" stroke-dasharray="1.3 2.2"/>
<circle cx="348.23" cy="618.93" r="7.8" fill="#ffffff" stroke="#46e0c8" stroke-width="1.6"/>
<circle cx="348.23" cy="618.93" r="4.6" fill="#5fe6d4"/>
<line x1="290.44" y1="601.38" x2="286.62" y2="610.61" stroke="#222" stroke-width="1.3" stroke-dasharray="1.3 2.2"/>
<circle cx="283.17" cy="618.93" r="7.8" fill="#ffffff" stroke="#1f86b7" stroke-width="1.6"/>
<circle cx="283.17" cy="618.93" r="4.6" fill="#1f86b7"/>
<line x1="254.72" y1="565.66" x2="245.49" y2="569.48" stroke="#222" stroke-width="1.3" stroke-dasharray="1.3 2.2"/>
<circle cx="237.17" cy="572.93" r="7.8" fill="#ffffff" stroke="#8d9097" stroke-width="1.6"/>
<circle cx="237.17" cy="572.93" r="4.6" fill="#9aa3ad"/>
<line x1="254.72" y1="515.14" x2="245.49" y2="511.32" stroke="#222" stroke-width="1.3" stroke-dasharray="1.3 2.2"/>
<circle cx="237.17" cy="507.87" r="7.8" fill="#ffffff" stroke="#2146bd" stroke-width="1.6"/>
<circle cx="237.17" cy="507.87" r="4.6" fill="#2146bd"/>
<line x1="290.44" y1="479.42" x2="286.62" y2="470.19" stroke="#222" stroke-width="1.3" stroke-dasharray="1.3 2.2"/>
<circle cx="283.17" cy="461.87" r="7.8" fill="#ffffff" stroke="#46e0c8" stroke-width="1.6"/>
<circle cx="283.17" cy="461.87" r="4.6" fill="#5fe6d4"/>
<text x="276.49" y="533.6" font-family="'Liberation Sans', sans-serif" font-size="15.5" font-weight="bold" fill="#10102f" text-anchor="start" textLength="79.19" lengthAdjust="spacingAndGlyphs" stroke="#10102f" stroke-width="0.3">BUSINESS</text>
<text x="287.37" y="550.6" font-family="'Liberation Sans', sans-serif" font-size="15.5" font-weight="bold" fill="#10102f" text-anchor="start" textLength="57.12" lengthAdjust="spacingAndGlyphs" stroke="#10102f" stroke-width="0.3">MODEL</text>
<text x="290.18" y="564.5" font-family="'Liberation Sans', sans-serif" font-size="10.2" font-weight="normal" fill="#10102f" text-anchor="start" textLength="51.33" lengthAdjust="spacingAndGlyphs" stroke="#10102f" stroke-width="0.2">CONCEPT</text>
<path d="M244.66,406.50 A17.3,17.3 0 0 1 259.29,386.37" fill="none" stroke="#46e0c8" stroke-width="3.5"/>
<path d="M258.16,381.88 L259.44,390.99 L265.54,386.30Z" fill="#46e0c8"/>
<path d="M267.62,387.24 A17.3,17.3 0 0 1 277.74,409.98" fill="none" stroke="#46e0c8" stroke-width="3.5"/>
<path d="M282.19,411.24 L273.66,407.79 L274.68,415.43Z" fill="#46e0c8"/>
<path d="M272.82,416.75 A17.3,17.3 0 0 1 248.07,414.15" fill="none" stroke="#46e0c8" stroke-width="3.5"/>
<path d="M244.75,417.38 L252.00,411.71 L244.88,408.77Z" fill="#46e0c8"/>
<path d="M259.09999999999997,410.1 V407.7 Q255.5,405.1 255.5,402.1 A6.2,6.2 0 1 1 267.9,402.1 Q267.9,405.1 264.3,407.7 V410.1Z" fill="none" stroke="#46e0c8" stroke-width="2.1" stroke-linejoin="round"/>
<rect x="258.5" y="409.9" width="6.4" height="3.6" rx="0.6" fill="#46e0c8"/>
<text x="228.96" y="439.5" font-family="'Liberation Sans', sans-serif" font-size="9.4" font-weight="normal" fill="#14142a" text-anchor="start" textLength="65.94" lengthAdjust="spacingAndGlyphs" stroke="#14142a" stroke-width="0.22">MANAGEMENT</text>
<path d="M368.7,386.9 H383.8 L381.6,394.6 H371.2Z" fill="#1f86b7"/>
<path d="M370.8,397.4 H381.9 L393.6,418.2 Q395.4,423.7 390.3,423.7 H362.3 Q357.2,423.7 359,418.2Z" fill="#1f86b7"/>
<text x="376.3" y="417.0" font-family="'Liberation Sans', sans-serif" font-size="16.5" font-weight="bold" fill="#f2feff" text-anchor="middle" stroke="#f2feff" stroke-width="0.5">$</text>
<text x="360.54" y="439.5" font-family="'Liberation Sans', sans-serif" font-size="9.4" font-weight="normal" fill="#14142a" text-anchor="start" textLength="31.88" lengthAdjust="spacingAndGlyphs" stroke="#14142a" stroke-width="0.22">COSTS</text>
<rect x="428.1" y="472.2" width="14.6" height="4.9" fill="#8c8c8c"/>
<rect x="450.5" y="472.2" width="14.6" height="4.9" fill="#8c8c8c"/>
<path d="M428.1,480 H465.1 V498.4 Q465.1,502.4 461.1,502.4 H432.1 Q428.1,502.4 428.1,498.4Z" fill="#8c8c8c"/>
<defs><linearGradient id="boxg" gradientUnits="userSpaceOnUse" x1="428.1" y1="480" x2="452.5" y2="511.6"><stop offset="0" stop-color="#5b9bd3"/><stop offset="0.58" stop-color="#5b9bd3"/><stop offset="0.74" stop-color="#8c8c8c"/><stop offset="1" stop-color="#8c8c8c"/></linearGradient></defs>
<path d="M428.1,480 H465.1 V500.2 H428.1Z" fill="url(#boxg)"/>
<rect x="442.7" y="479.5" width="7.8" height="5.7" fill="#f6f8fa"/>
<rect x="451" y="492" width="8.9" height="5.7" fill="#ffffff"/>
<text x="420.61" y="518.8" font-family="'Liberation Sans', sans-serif" font-size="9.4" font-weight="normal" fill="#14142a" text-anchor="start" textLength="51.66" lengthAdjust="spacingAndGlyphs" stroke="#14142a" stroke-width="0.22">PRODUCTS</text>
<circle cx="445.6" cy="585" r="4.15" fill="none" stroke="#1c3199" stroke-width="2.5"/>
<circle cx="453.1" cy="575.6" r="2.9" fill="none" stroke="#1c3199" stroke-width="2.2"/>
<circle cx="455.4" cy="591.6" r="1.5" fill="#2146bd"/><circle cx="459.6" cy="591" r="1.5" fill="#2146bd"/><circle cx="463.8" cy="591.4" r="1.5" fill="#2146bd"/><circle cx="467.2" cy="593" r="1.4" fill="#2146bd"/>
<path d="M424,589.2 L431,589.6 L431.4,592.4 L439,592 Q446,593 449.5,595.5 L453,592.8 L458,590.6 L464,591 L468.7,593 L468.2,596 Q458,604 449,608.2 Q440,609.5 431.5,607.2 L431,608.6 L424,609Z" fill="#2146bd"/>
<path d="M439.2,600.3 H449.5 Q453.2,599.8 452.6,596.4 Q452,594.4 449.7,593.6" fill="none" stroke="#ffffff" stroke-width="2.3" stroke-linecap="round"/>
<text x="425.08" y="624.3" font-family="'Liberation Sans', sans-serif" font-size="9.4" font-weight="normal" fill="#14142a" text-anchor="start" textLength="43.48" lengthAdjust="spacingAndGlyphs" stroke="#14142a" stroke-width="0.22">REVENUE</text>
<circle cx="262.4" cy="649.4" r="9.4" fill="#1f86b7"/>
<path d="M244,676 V669.5 Q244.3,662 256,661.8 H269 Q280.7,662 281,669.5 V676Z" fill="#1f86b7"/>
<path d="M257.9,664.9 H266.9 L263.8,670.1 L266.6,676 H258.9 L261.3,670.1Z" fill="#ffffff"/>
<text x="232.84" y="691.7" font-family="'Liberation Sans', sans-serif" font-size="9.4" font-weight="normal" fill="#14142a" text-anchor="start" textLength="58.69" lengthAdjust="spacingAndGlyphs" stroke="#14142a" stroke-width="0.22">CUSTOMERS</text>
<rect x="364.9" y="639.2" width="22.90" height="14.90" rx="1.6" fill="#46e0c8"/><rect x="368.4" y="643.7" width="16.00" height="7.70" rx="0.5" fill="#ffffff"/>
<rect x="354.2" y="661.4" width="20.10" height="14.60" rx="1.6" fill="#46e0c8"/><rect x="357" y="666" width="14.90" height="6.90" rx="0.5" fill="#ffffff"/>
<rect x="378.1" y="661.4" width="20.50" height="14.60" rx="1.6" fill="#46e0c8"/><rect x="381" y="666" width="14.80" height="6.90" rx="0.5" fill="#ffffff"/>
<path d="M376.5,654 V657.8 M363.9,662 V657.8 H388.6 V662" fill="none" stroke="#46e0c8" stroke-width="1.8"/>
<text x="339.59" y="691.7" font-family="'Liberation Sans', sans-serif" font-size="9.4" font-weight="normal" fill="#14142a" text-anchor="start" textLength="73.38" lengthAdjust="spacingAndGlyphs" stroke="#14142a" stroke-width="0.22">COMPETENCIES</text>
<line x1="184.3" y1="485.6" x2="200.30" y2="485.60" stroke="#2146bd" stroke-width="2.1"/>
<circle cx="200.30" cy="485.60" r="4.9" fill="#2146bd"/>
<circle cx="191.70" cy="472.78" r="4.9" fill="#2146bd"/>
<line x1="184.3" y1="485.6" x2="176.90" y2="472.78" stroke="#2146bd" stroke-width="2.1"/>
<circle cx="176.90" cy="472.78" r="4.9" fill="#2146bd"/>
<circle cx="168.30" cy="485.60" r="4.9" fill="#2146bd"/>
<line x1="184.3" y1="485.6" x2="176.90" y2="498.42" stroke="#2146bd" stroke-width="2.1"/>
<circle cx="176.90" cy="498.42" r="4.9" fill="#2146bd"/>
<circle cx="191.70" cy="498.42" r="4.9" fill="#2146bd"/>
<circle cx="184.3" cy="485.6" r="4.1" fill="#ffffff" stroke="#2146bd" stroke-width="2.3"/>
<text x="152.01" y="518.8" font-family="'Liberation Sans', sans-serif" font-size="9.4" font-weight="normal" fill="#14142a" text-anchor="start" textLength="64.98" lengthAdjust="spacingAndGlyphs" stroke="#14142a" stroke-width="0.22">DISTRIBUTION</text>
<defs><linearGradient id="gearg" x1="0" y1="0" x2="1" y2="0"><stop offset="0" stop-color="#52b0b4"/><stop offset="0.22" stop-color="#6a95b6"/><stop offset="0.38" stop-color="#8d8f93"/><stop offset="1" stop-color="#8d8f93"/></linearGradient></defs>
<path d="M191.18,594.25 L193.89,596.07 L191.20,602.56 L187.99,601.94 L186.94,602.99 L187.56,606.20 L181.07,608.89 L179.25,606.18 L177.75,606.18 L175.93,608.89 L169.44,606.20 L170.06,602.99 L169.01,601.94 L165.80,602.56 L163.11,596.07 L165.82,594.25 L165.82,592.75 L163.11,590.93 L165.80,584.44 L169.01,585.06 L170.06,584.01 L169.44,580.80 L175.93,578.11 L177.75,580.82 L179.25,580.82 L181.07,578.11 L187.56,580.80 L186.94,584.01 L187.99,585.06 L191.20,584.44 L193.89,590.93 L191.18,592.75Z M185.50,593.50 A7.0,7.0 0 1 0 171.50,593.50 A7.0,7.0 0 1 0 185.50,593.50Z" fill="url(#gearg)" fill-rule="evenodd"/>
<path d="M204.09,572.98 L206.26,573.28 L206.26,577.52 L204.09,577.82 L203.76,578.63 L205.07,580.38 L202.08,583.37 L200.33,582.06 L199.52,582.39 L199.22,584.56 L194.98,584.56 L194.68,582.39 L193.87,582.06 L192.12,583.37 L189.13,580.38 L190.44,578.63 L190.11,577.82 L187.94,577.52 L187.94,573.28 L190.11,572.98 L190.44,572.17 L189.13,570.42 L192.12,567.43 L193.87,568.74 L194.68,568.41 L194.98,566.24 L199.22,566.24 L199.52,568.41 L200.33,568.74 L202.08,567.43 L205.07,570.42 L203.76,572.17Z M200.60,575.40 A3.5,3.5 0 1 0 193.60,575.40 A3.5,3.5 0 1 0 200.60,575.40Z" fill="#8d8f93" fill-rule="evenodd"/>
<text x="161.95" y="624.3" font-family="'Liberation Sans', sans-serif" font-size="9.4" font-weight="normal" fill="#14142a" text-anchor="start" textLength="45.14" lengthAdjust="spacingAndGlyphs" stroke="#14142a" stroke-width="0.22">SERVICES</text>
<defs>
<filter id="sh" x="-20%" y="-20%" width="140%" height="140%"><feGaussianBlur stdDeviation="2.2"/></filter>
</defs>
<circle cx="964" cy="420" r="206" fill="none" stroke="#d7e0e9" stroke-width="19"/>
<defs><filter id="bv" x="-10%" y="-10%" width="120%" height="120%"><feGaussianBlur stdDeviation="1.1"/></filter></defs>
<defs><radialGradient id="b1a" cx="0.16" cy="0.84" r="0.55"><stop offset="0" stop-color="#3ccafc" stop-opacity="0.95"/><stop offset="0.55" stop-color="#3ccafc" stop-opacity="0.5"/><stop offset="1" stop-color="#3ccafc" stop-opacity="0"/></radialGradient><radialGradient id="b1b" cx="0.84" cy="0.16" r="0.55"><stop offset="0" stop-color="#3ccafc" stop-opacity="0.6"/><stop offset="0.55" stop-color="#3ccafc" stop-opacity="0.3"/><stop offset="1" stop-color="#3ccafc" stop-opacity="0"/></radialGradient><clipPath id="b1c"><ellipse cx="963.5" cy="209.3" rx="72.2" ry="68.8"/></clipPath></defs><ellipse cx="963.5" cy="209.3" rx="72.2" ry="68.8" fill="#029de1"/><g clip-path="url(#b1c)"><g filter="url(#bv)"><ellipse cx="963.5" cy="209.3" rx="68.60000000000001" ry="65.2" fill="none" stroke="url(#b1a)" stroke-width="3.6"/><ellipse cx="963.5" cy="209.3" rx="68.60000000000001" ry="65.2" fill="none" stroke="url(#b1b)" stroke-width="3.4"/><ellipse cx="963.5" cy="209.3" rx="68.60000000000001" ry="65.2" fill="none" stroke="#3ccafc" stroke-width="3" opacity="0.1"/></g><ellipse cx="963.5" cy="209.3" rx="71.60000000000001" ry="68.2" fill="none" stroke="#0884c8" stroke-width="1.5" opacity="0.55"/></g>
<defs><radialGradient id="b2a" cx="0.16" cy="0.84" r="0.55"><stop offset="0" stop-color="#4a99ae" stop-opacity="0.95"/><stop offset="0.55" stop-color="#4a99ae" stop-opacity="0.5"/><stop offset="1" stop-color="#4a99ae" stop-opacity="0"/></radialGradient><radialGradient id="b2b" cx="0.84" cy="0.16" r="0.55"><stop offset="0" stop-color="#4a99ae" stop-opacity="0.6"/><stop offset="0.55" stop-color="#4a99ae" stop-opacity="0.3"/><stop offset="1" stop-color="#4a99ae" stop-opacity="0"/></radialGradient><clipPath id="b2c"><ellipse cx="1146" cy="315" rx="68.4" ry="68.4"/></clipPath></defs><ellipse cx="1146" cy="315" rx="68.4" ry="68.4" fill="#155365"/><g clip-path="url(#b2c)"><g filter="url(#bv)"><ellipse cx="1146" cy="315" rx="64.80000000000001" ry="64.80000000000001" fill="none" stroke="url(#b2a)" stroke-width="3.6"/><ellipse cx="1146" cy="315" rx="64.80000000000001" ry="64.80000000000001" fill="none" stroke="url(#b2b)" stroke-width="3.4"/><ellipse cx="1146" cy="315" rx="64.80000000000001" ry="64.80000000000001" fill="none" stroke="#4a99ae" stroke-width="3" opacity="0.1"/></g><ellipse cx="1146" cy="315" rx="67.80000000000001" ry="67.80000000000001" fill="none" stroke="#0e3f4e" stroke-width="1.5" opacity="0.55"/></g>
<defs><radialGradient id="b3a" cx="0.16" cy="0.84" r="0.55"><stop offset="0" stop-color="#c56f9d" stop-opacity="0.95"/><stop offset="0.55" stop-color="#c56f9d" stop-opacity="0.5"/><stop offset="1" stop-color="#c56f9d" stop-opacity="0"/></radialGradient><radialGradient id="b3b" cx="0.84" cy="0.16" r="0.55"><stop offset="0" stop-color="#c56f9d" stop-opacity="0.6"/><stop offset="0.55" stop-color="#c56f9d" stop-opacity="0.3"/><stop offset="1" stop-color="#c56f9d" stop-opacity="0"/></radialGradient><clipPath id="b3c"><ellipse cx="1146.2" cy="526" rx="68.5" ry="67.6"/></clipPath></defs><ellipse cx="1146.2" cy="526" rx="68.5" ry="67.6" fill="#913f6a"/><g clip-path="url(#b3c)"><g filter="url(#bv)"><ellipse cx="1146.2" cy="526" rx="64.9" ry="63.99999999999999" fill="none" stroke="url(#b3a)" stroke-width="3.6"/><ellipse cx="1146.2" cy="526" rx="64.9" ry="63.99999999999999" fill="none" stroke="url(#b3b)" stroke-width="3.4"/><ellipse cx="1146.2" cy="526" rx="64.9" ry="63.99999999999999" fill="none" stroke="#c56f9d" stroke-width="3" opacity="0.1"/></g><ellipse cx="1146.2" cy="526" rx="67.9" ry="67.0" fill="none" stroke="#6e2b4f" stroke-width="1.5" opacity="0.55"/></g>
<defs><radialGradient id="b4a" cx="0.16" cy="0.84" r="0.55"><stop offset="0" stop-color="#d39fd3" stop-opacity="0.95"/><stop offset="0.55" stop-color="#d39fd3" stop-opacity="0.5"/><stop offset="1" stop-color="#d39fd3" stop-opacity="0"/></radialGradient><radialGradient id="b4b" cx="0.84" cy="0.16" r="0.55"><stop offset="0" stop-color="#d39fd3" stop-opacity="0.6"/><stop offset="0.55" stop-color="#d39fd3" stop-opacity="0.3"/><stop offset="1" stop-color="#d39fd3" stop-opacity="0"/></radialGradient><clipPath id="b4c"><ellipse cx="963.8" cy="631" rx="67.8" ry="67.6"/></clipPath></defs><ellipse cx="963.8" cy="631" rx="67.8" ry="67.6" fill="#996397"/><g clip-path="url(#b4c)"><g filter="url(#bv)"><ellipse cx="963.8" cy="631" rx="64.2" ry="63.99999999999999" fill="none" stroke="url(#b4a)" stroke-width="3.6"/><ellipse cx="963.8" cy="631" rx="64.2" ry="63.99999999999999" fill="none" stroke="url(#b4b)" stroke-width="3.4"/><ellipse cx="963.8" cy="631" rx="64.2" ry="63.99999999999999" fill="none" stroke="#d39fd3" stroke-width="3" opacity="0.1"/></g><ellipse cx="963.8" cy="631" rx="67.2" ry="67.0" fill="none" stroke="#7b4a7d" stroke-width="1.5" opacity="0.55"/></g>
<defs><radialGradient id="b5a" cx="0.16" cy="0.84" r="0.55"><stop offset="0" stop-color="#d6ba6e" stop-opacity="0.95"/><stop offset="0.55" stop-color="#d6ba6e" stop-opacity="0.5"/><stop offset="1" stop-color="#d6ba6e" stop-opacity="0"/></radialGradient><radialGradient id="b5b" cx="0.84" cy="0.16" r="0.55"><stop offset="0" stop-color="#d6ba6e" stop-opacity="0.6"/><stop offset="0.55" stop-color="#d6ba6e" stop-opacity="0.3"/><stop offset="1" stop-color="#d6ba6e" stop-opacity="0"/></radialGradient><clipPath id="b5c"><ellipse cx="781.2" cy="526" rx="68.5" ry="67.6"/></clipPath></defs><ellipse cx="781.2" cy="526" rx="68.5" ry="67.6" fill="#a88a46"/><g clip-path="url(#b5c)"><g filter="url(#bv)"><ellipse cx="781.2" cy="526" rx="64.9" ry="63.99999999999999" fill="none" stroke="url(#b5a)" stroke-width="3.6"/><ellipse cx="781.2" cy="526" rx="64.9" ry="63.99999999999999" fill="none" stroke="url(#b5b)" stroke-width="3.4"/><ellipse cx="781.2" cy="526" rx="64.9" ry="63.99999999999999" fill="none" stroke="#d6ba6e" stroke-width="3" opacity="0.1"/></g><ellipse cx="781.2" cy="526" rx="67.9" ry="67.0" fill="none" stroke="#8b6f2d" stroke-width="1.5" opacity="0.55"/></g>
<defs><radialGradient id="b6a" cx="0.16" cy="0.84" r="0.55"><stop offset="0" stop-color="#9cc6ee" stop-opacity="0.95"/><stop offset="0.55" stop-color="#9cc6ee" stop-opacity="0.5"/><stop offset="1" stop-color="#9cc6ee" stop-opacity="0"/></radialGradient><radialGradient id="b6b" cx="0.84" cy="0.16" r="0.55"><stop offset="0" stop-color="#9cc6ee" stop-opacity="0.6"/><stop offset="0.55" stop-color="#9cc6ee" stop-opacity="0.3"/><stop offset="1" stop-color="#9cc6ee" stop-opacity="0"/></radialGradient><clipPath id="b6c"><ellipse cx="781.5" cy="315" rx="68.2" ry="68.5"/></clipPath></defs><ellipse cx="781.5" cy="315" rx="68.2" ry="68.5" fill="#6490be"/><g clip-path="url(#b6c)"><g filter="url(#bv)"><ellipse cx="781.5" cy="315" rx="64.60000000000001" ry="64.9" fill="none" stroke="url(#b6a)" stroke-width="3.6"/><ellipse cx="781.5" cy="315" rx="64.60000000000001" ry="64.9" fill="none" stroke="url(#b6b)" stroke-width="3.4"/><ellipse cx="781.5" cy="315" rx="64.60000000000001" ry="64.9" fill="none" stroke="#9cc6ee" stroke-width="3" opacity="0.1"/></g><ellipse cx="781.5" cy="315" rx="67.60000000000001" ry="67.9" fill="none" stroke="#456f9f" stroke-width="1.5" opacity="0.55"/></g>
<defs><radialGradient id="b7a" cx="0.16" cy="0.84" r="0.55"><stop offset="0" stop-color="#c8f4ff" stop-opacity="0.95"/><stop offset="0.55" stop-color="#c8f4ff" stop-opacity="0.5"/><stop offset="1" stop-color="#c8f4ff" stop-opacity="0"/></radialGradient><radialGradient id="b7b" cx="0.84" cy="0.16" r="0.55"><stop offset="0" stop-color="#c8f4ff" stop-opacity="0.6"/><stop offset="0.55" stop-color="#c8f4ff" stop-opacity="0.3"/><stop offset="1" stop-color="#c8f4ff" stop-opacity="0"/></radialGradient><clipPath id="b7c"><ellipse cx="964.2" cy="420" rx="96.8" ry="96.7"/></clipPath></defs><ellipse cx="964.2" cy="420" rx="96.8" ry="96.7" fill="#9de7fe"/><g clip-path="url(#b7c)"><g filter="url(#bv)"><ellipse cx="964.2" cy="420" rx="93.2" ry="93.10000000000001" fill="none" stroke="url(#b7a)" stroke-width="3.6"/><ellipse cx="964.2" cy="420" rx="93.2" ry="93.10000000000001" fill="none" stroke="url(#b7b)" stroke-width="3.4"/><ellipse cx="964.2" cy="420" rx="93.2" ry="93.10000000000001" fill="none" stroke="#c8f4ff" stroke-width="3" opacity="0.1"/></g><ellipse cx="964.2" cy="420" rx="96.2" ry="96.10000000000001" fill="none" stroke="#86d4ee" stroke-width="1.5" opacity="0.55"/></g>
<text x="948.35" y="204.6" font-family="'Liberation Sans', sans-serif" font-size="15.6" font-weight="bold" fill="#e6f6ff" text-anchor="start" textLength="29.23" lengthAdjust="spacingAndGlyphs" >Risk</text>
<text x="915.64" y="223" font-family="'Liberation Sans', sans-serif" font-size="15.6" font-weight="bold" fill="#e6f6ff" text-anchor="start" textLength="94.9" lengthAdjust="spacingAndGlyphs" >Management</text>
<text x="1113.23" y="319.5" font-family="'Liberation Sans', sans-serif" font-size="15.6" font-weight="bold" fill="#e6f6ff" text-anchor="start" textLength="65.97" lengthAdjust="spacingAndGlyphs" >Valuation</text>
<text x="1100.32" y="520.8" font-family="'Liberation Sans', sans-serif" font-size="15.6" font-weight="bold" fill="#fdeaf5" text-anchor="start" textLength="89.99" lengthAdjust="spacingAndGlyphs" >Mergers and</text>
<text x="1102.79" y="539.3" font-family="'Liberation Sans', sans-serif" font-size="15.6" font-weight="bold" fill="#fdeaf5" text-anchor="start" textLength="85.23" lengthAdjust="spacingAndGlyphs" >Acquisitions</text>
<text x="927.43" y="616.3" font-family="'Liberation Sans', sans-serif" font-size="15.6" font-weight="bold" fill="#fdeaf8" text-anchor="start" textLength="73.51" lengthAdjust="spacingAndGlyphs" >Budgeting</text>
<text x="951.06" y="635.4" font-family="'Liberation Sans', sans-serif" font-size="15.6" font-weight="bold" fill="#fdeaf8" text-anchor="start" textLength="26.25" lengthAdjust="spacingAndGlyphs" >and</text>
<text x="922.81" y="654.8" font-family="'Liberation Sans', sans-serif" font-size="15.6" font-weight="bold" fill="#fdeaf8" text-anchor="start" textLength="82.23" lengthAdjust="spacingAndGlyphs" >Forecasting</text>
<text x="755.58" y="520.8" font-family="'Liberation Sans', sans-serif" font-size="15.6" font-weight="bold" fill="#fdf6e2" text-anchor="start" textLength="50.86" lengthAdjust="spacingAndGlyphs" >Raising</text>
<text x="757.01" y="539.3" font-family="'Liberation Sans', sans-serif" font-size="15.6" font-weight="bold" fill="#fdf6e2" text-anchor="start" textLength="48.8" lengthAdjust="spacingAndGlyphs" >Capital</text>
<text x="747.58" y="299.85" font-family="'Liberation Sans', sans-serif" font-size="15.6" font-weight="bold" fill="#eaf5ff" text-anchor="start" textLength="67.08" lengthAdjust="spacingAndGlyphs" >Informed</text>
<text x="750.75" y="318.5" font-family="'Liberation Sans', sans-serif" font-size="15.6" font-weight="bold" fill="#eaf5ff" text-anchor="start" textLength="60.87" lengthAdjust="spacingAndGlyphs" >Decision</text>
<text x="754.79" y="337.3" font-family="'Liberation Sans', sans-serif" font-size="15.6" font-weight="bold" fill="#eaf5ff" text-anchor="start" textLength="53.41" lengthAdjust="spacingAndGlyphs" >Making</text>
<text x="921.53" y="411.8" font-family="'Liberation Sans', sans-serif" font-size="22.4" font-weight="bold" fill="#f2fcff" text-anchor="start" textLength="82.31" lengthAdjust="spacingAndGlyphs" >Uses of</text>
<text x="898.54" y="441.2" font-family="'Liberation Sans', sans-serif" font-size="22.4" font-weight="bold" fill="#f2fcff" text-anchor="start" textLength="129.62" lengthAdjust="spacingAndGlyphs" >Cost Model</text>
<circle cx="1087.3" cy="664.4" r="3.5" fill="#1da4e6"/>
<path d="M1086.8,678.8 V701.7 M1094.9,678.8 V701.7 M1094.9,690.4499999999999 A9.05,9.05 0 0 1 1113,690.4499999999999 V701.7 M1113,690.8 A9.4,9.4 0 0 1 1131.8,690.8 V701.7 M1158.7,678.8 V701.7 M1165.6,678.8 V701.7 M1165.6,692.9 C1165.6,684.9 1171,681.4 1178,681.4 H1181.9" fill="none" stroke="#1da4e6" stroke-width="5.2"/>
<rect x="1082.8" y="678.8" width="3" height="4.6" fill="#1da4e6"/>
<circle cx="1148.2" cy="690.25" r="8.8" fill="none" stroke="#1da4e6" stroke-width="5.2"/>
<path d="M1200.34,684.25 A8.8,8.8 0 1 0 1200.34,696.25" fill="none" stroke="#1da4e6" stroke-width="5.2"/>
<rect x="1205.6" y="678.3" width="2.5" height="22.8" fill="#111"/>
<text x="1212.17" y="687.6" font-family="'Liberation Sans', sans-serif" font-size="8.7" font-weight="bold" fill="#1a1a1a" text-anchor="start" textLength="46.9" lengthAdjust="spacingAndGlyphs" >IMPACTFUL</text>
<text x="1212.16" y="697.2" font-family="'Liberation Sans', sans-serif" font-size="8.5" font-weight="bold" fill="#1a1a1a" text-anchor="start" textLength="39.25" lengthAdjust="spacingAndGlyphs" >INSIGHTS</text>
</svg>
</body></html>
